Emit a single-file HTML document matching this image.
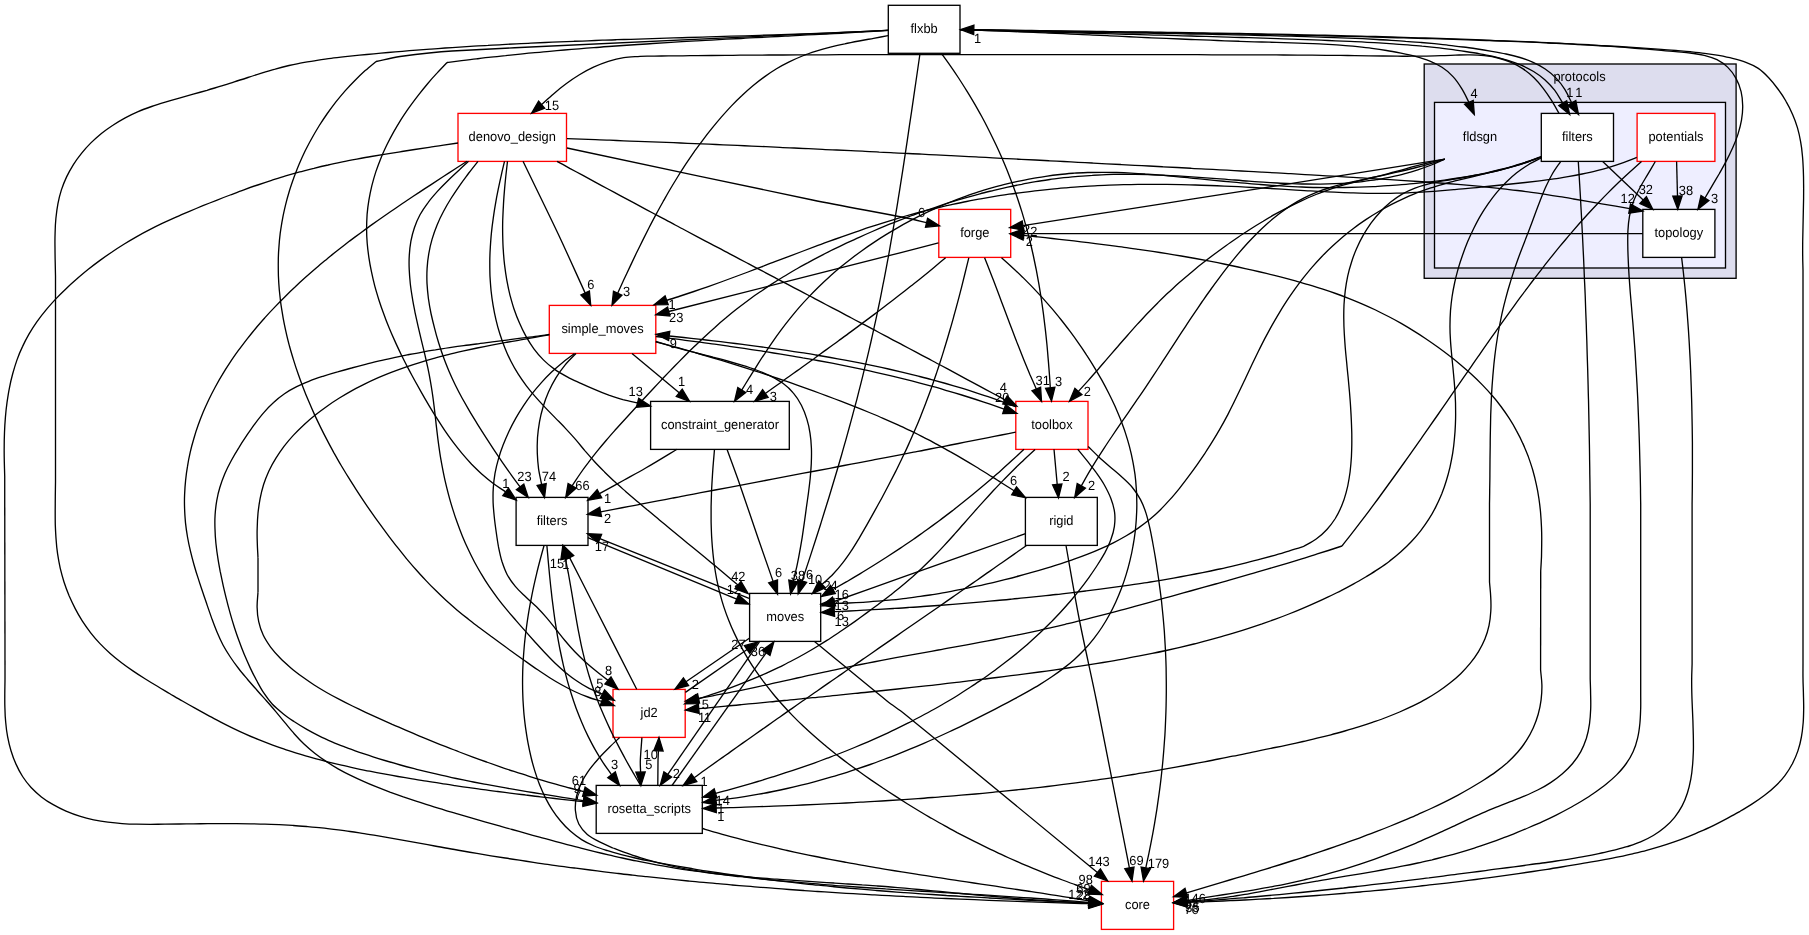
<!DOCTYPE html>
<html><head><meta charset="utf-8"><title>protocols/fldsgn</title>
<style>html,body{margin:0;padding:0;background:#fff}svg{display:block}svg{will-change:transform}text{text-rendering:geometricPrecision;font-family:"Liberation Sans",sans-serif;font-size:13.33px;fill:#000}</style></head><body>
<svg width="1809" height="935" viewBox="0 0 1809 935">
<rect width="1809" height="935" fill="#fff"/>
<rect x="1424.2" y="64" width="311.9" height="214.3" fill="#ddddee" stroke="#000" stroke-width="1.33"/>
<text transform="translate(1579.5,80.5) scale(0.965,1)" text-anchor="middle">protocols</text>
<rect x="1434.5" y="102.4" width="291" height="165.6" fill="#eeeeff" stroke="#000" stroke-width="1.33"/>
<text transform="translate(1480.0,141.0) scale(0.965,1)" text-anchor="middle">fldsgn</text>
<rect x="888.3" y="5.3" width="71.7" height="48.0" fill="#fff" stroke="black" stroke-width="1.33"/>
<text transform="translate(924.1,33.1) scale(0.965,1)" text-anchor="middle">flxbb</text>
<rect x="458.0" y="113.4" width="108.5" height="48.0" fill="#fff" stroke="red" stroke-width="1.33"/>
<text transform="translate(512.2,141.2) scale(0.965,1)" text-anchor="middle">denovo_design</text>
<rect x="938.8" y="209.4" width="71.9" height="48.0" fill="#fff" stroke="red" stroke-width="1.33"/>
<text transform="translate(974.8,237.2) scale(0.965,1)" text-anchor="middle">forge</text>
<rect x="549.3" y="305.4" width="106.5" height="48.0" fill="#fff" stroke="red" stroke-width="1.33"/>
<text transform="translate(602.5,333.2) scale(0.965,1)" text-anchor="middle">simple_moves</text>
<rect x="650.6" y="401.4" width="138.7" height="48.0" fill="#fff" stroke="black" stroke-width="1.33"/>
<text transform="translate(720.0,429.2) scale(0.965,1)" text-anchor="middle">constraint_generator</text>
<rect x="1015.8" y="401.4" width="72.2" height="48.0" fill="#fff" stroke="red" stroke-width="1.33"/>
<text transform="translate(1051.9,429.2) scale(0.965,1)" text-anchor="middle">toolbox</text>
<rect x="516.1" y="497.4" width="71.9" height="48.0" fill="#fff" stroke="black" stroke-width="1.33"/>
<text transform="translate(552.0,525.2) scale(0.965,1)" text-anchor="middle">filters</text>
<rect x="1025.4" y="497.4" width="71.9" height="48.0" fill="#fff" stroke="black" stroke-width="1.33"/>
<text transform="translate(1061.3,525.2) scale(0.965,1)" text-anchor="middle">rigid</text>
<rect x="749.6" y="593.4" width="71.1" height="48.0" fill="#fff" stroke="black" stroke-width="1.33"/>
<text transform="translate(785.2,621.2) scale(0.965,1)" text-anchor="middle">moves</text>
<rect x="613.0" y="689.4" width="72.2" height="48.0" fill="#fff" stroke="red" stroke-width="1.33"/>
<text transform="translate(649.1,717.2) scale(0.965,1)" text-anchor="middle">jd2</text>
<rect x="596.2" y="785.4" width="106.1" height="48.0" fill="#fff" stroke="black" stroke-width="1.33"/>
<text transform="translate(649.2,813.2) scale(0.965,1)" text-anchor="middle">rosetta_scripts</text>
<rect x="1101.4" y="881.4" width="72.2" height="48.0" fill="#fff" stroke="red" stroke-width="1.33"/>
<text transform="translate(1137.5,909.2) scale(0.965,1)" text-anchor="middle">core</text>
<rect x="1541.3" y="113.4" width="72.2" height="48.0" fill="#fff" stroke="black" stroke-width="1.33"/>
<text transform="translate(1577.4,141.2) scale(0.965,1)" text-anchor="middle">filters</text>
<rect x="1637.1" y="113.4" width="77.8" height="48.0" fill="#fff" stroke="red" stroke-width="1.33"/>
<text transform="translate(1676.0,141.2) scale(0.965,1)" text-anchor="middle">potentials</text>
<rect x="1642.8" y="209.4" width="72.1" height="48.0" fill="#fff" stroke="black" stroke-width="1.33"/>
<text transform="translate(1678.8,237.2) scale(0.965,1)" text-anchor="middle">topology</text>
<g fill="none" stroke="#000" stroke-width="1.33">
<path d="M888.3,30.2C883.5,30.4 878.8,30.7 874.0,30.9C869.3,31.1 864.5,31.4 859.7,31.6C855.0,31.8 850.2,32.0 845.4,32.2C840.7,32.4 835.9,32.6 831.1,32.8C826.4,33.0 821.6,33.2 816.8,33.4C812.1,33.5 807.3,33.7 802.5,33.9C797.8,34.1 793.0,34.2 788.2,34.4C783.5,34.6 778.7,34.7 773.9,34.9C769.2,35.0 764.4,35.2 759.6,35.3C754.9,35.5 750.1,35.6 745.3,35.8C740.6,35.9 735.8,36.1 731.0,36.2C726.3,36.4 721.5,36.5 716.7,36.7C712.0,36.8 707.2,36.9 702.4,37.1C697.7,37.2 692.9,37.4 688.1,37.5C683.4,37.7 678.6,37.8 673.8,37.9C669.1,38.1 664.3,38.2 659.5,38.4C654.7,38.5 650.0,38.7 645.2,38.8C640.4,39.0 635.7,39.1 630.9,39.3C626.1,39.4 621.4,39.6 616.6,39.7C611.8,39.9 607.1,40.1 602.3,40.2C597.5,40.4 592.8,40.6 588.0,40.8C583.2,40.9 578.5,41.1 573.7,41.3C568.9,41.5 564.2,41.7 559.4,41.9C554.6,42.1 549.9,42.3 545.1,42.5C540.4,42.7 535.6,42.9 530.8,43.1C526.1,43.4 521.3,43.6 516.5,43.8C511.8,44.1 507.0,44.3 502.2,44.6C497.5,44.8 492.7,45.1 488.0,45.4C483.2,45.6 478.4,45.9 473.7,46.2C468.9,46.5 464.2,46.8 459.4,47.1C454.6,47.4 449.9,47.7 445.1,48.0C440.4,48.4 435.6,48.7 430.9,49.1C426.1,49.4 421.3,49.8 416.6,50.1C411.8,50.5 407.1,50.9 402.3,51.3C397.6,51.7 392.8,52.1 388.1,52.5C383.3,52.9 378.6,53.4 373.8,53.8C369.1,54.3 364.3,54.7 359.6,55.2C354.8,55.7 350.1,56.2 345.3,56.7C340.6,57.2 335.9,57.7 331.1,58.3C326.4,58.9 321.7,59.6 317.0,60.3C312.3,61.0 307.6,61.8 302.9,62.6C298.2,63.5 293.6,64.5 289.0,65.5C284.3,66.6 279.7,67.8 275.2,69.1C270.6,70.3 266.0,71.7 261.5,73.1C257.0,74.6 252.4,76.1 247.9,77.5C243.4,79.0 238.9,80.5 234.3,81.9C229.8,83.4 225.2,84.8 220.7,86.2C216.1,87.6 211.5,88.9 207.0,90.3C202.4,91.6 197.8,92.9 193.2,94.2C188.5,95.5 183.9,96.8 179.3,98.1C174.6,99.4 170.0,100.7 165.3,102.1C160.7,103.5 156.1,104.9 151.6,106.5C147.0,108.1 142.5,109.7 138.1,111.6C133.7,113.5 129.4,115.6 125.2,117.8C121.0,120.1 116.8,122.5 112.9,125.2C108.9,127.8 105.1,130.6 101.4,133.5C97.8,136.5 94.2,139.6 90.9,142.9C87.6,146.2 84.4,149.7 81.5,153.3C78.6,156.9 75.8,160.7 73.4,164.6C70.9,168.6 68.6,172.7 66.6,176.9C64.6,181.1 62.9,185.5 61.4,189.9C60.0,194.4 58.8,199.1 57.9,203.8C57.0,208.5 56.4,213.4 55.9,218.2C55.4,223.1 55.2,228.0 55.1,232.9C54.9,237.9 54.9,242.8 55.0,247.7C55.0,252.5 55.1,257.3 55.2,262.1C55.3,266.8 55.4,271.4 55.5,276.0"/>
<path d="M55.5,276.0L55.5,482.0"/>
<path d="M55.5,482.0C55.4,486.8 55.4,491.5 55.3,496.3C55.3,501.1 55.2,505.9 55.2,510.7C55.2,515.5 55.2,520.3 55.3,525.1C55.5,529.9 55.7,534.7 56.1,539.5C56.4,544.3 56.9,549.1 57.6,553.9C58.3,558.6 59.2,563.4 60.2,568.1C61.3,572.7 62.6,577.4 64.0,582.0C65.5,586.6 67.2,591.1 69.0,595.6C70.9,600.0 73.0,604.4 75.2,608.6C77.4,612.9 79.8,617.0 82.4,621.1C85.0,625.1 87.8,629.0 90.7,632.8C93.6,636.5 96.7,640.1 100.0,643.6C103.2,647.0 106.7,650.3 110.2,653.4C113.8,656.6 117.5,659.6 121.2,662.5C125.0,665.4 128.9,668.2 132.9,670.9C136.8,673.6 140.9,676.2 145.0,678.7C149.1,681.3 153.2,683.8 157.4,686.3C161.5,688.8 165.7,691.2 169.9,693.7C174.0,696.1 178.2,698.6 182.4,701.0C186.6,703.4 190.8,705.8 195.0,708.2C199.2,710.5 203.4,712.9 207.6,715.2C211.8,717.5 216.1,719.7 220.3,721.9C224.6,724.1 228.9,726.2 233.2,728.3C237.5,730.4 241.8,732.4 246.2,734.3C250.5,736.3 254.9,738.1 259.3,739.9C263.8,741.7 268.2,743.4 272.7,745.1C277.2,746.7 281.7,748.3 286.2,749.8C290.7,751.3 295.3,752.7 299.9,754.1C304.4,755.5 309.0,756.8 313.6,758.1C318.3,759.4 322.9,760.6 327.5,761.8C332.2,763.0 336.8,764.1 341.5,765.2C346.2,766.3 350.9,767.3 355.6,768.3C360.3,769.3 365.0,770.3 369.7,771.2C374.4,772.1 379.2,773.0 383.9,773.9C388.6,774.8 393.4,775.6 398.1,776.5C402.8,777.3 407.6,778.1 412.3,778.9C417.1,779.7 421.8,780.5 426.6,781.2C431.3,782.0 436.0,782.7 440.8,783.4C445.5,784.2 450.3,784.9 455.0,785.6C459.7,786.3 464.5,787.0 469.2,787.6C474.0,788.3 478.7,789.0 483.5,789.6C488.2,790.3 493.0,790.9 497.7,791.5C502.5,792.1 507.2,792.7 512.0,793.3C516.7,794.0 521.5,794.5 526.2,795.1C531.0,795.7 535.7,796.3 540.5,796.8C545.3,797.4 550.0,797.9 554.8,798.5C559.6,799.0 564.3,799.6 569.1,800.1C573.9,800.6 578.7,801.1 583.5,801.7"/>
<path d="M888.3,30.3C742.9,37.2 597.4,43.2 452.0,51.0C434.6,51.9 417.2,54.1 400.0,56.5C391.9,57.6 384.0,59.8 376.0,61.5"/>
<path d="M376.0,61.5C372.4,64.5 368.7,67.5 365.2,70.6C361.7,73.8 358.2,77.1 354.9,80.5C351.6,83.8 348.3,87.3 345.1,90.9C342.0,94.5 338.9,98.2 335.9,101.9C333.0,105.7 330.1,109.6 327.3,113.5C324.6,117.4 321.9,121.4 319.3,125.5C316.8,129.6 314.3,133.8 312.0,138.0C309.6,142.2 307.4,146.5 305.2,150.8C303.1,155.2 301.1,159.6 299.2,164.0C297.3,168.5 295.6,173.0 293.9,177.5C292.3,182.0 290.7,186.6 289.3,191.2C287.9,195.8 286.6,200.4 285.5,205.1C284.4,209.7 283.3,214.4 282.5,219.1C281.6,223.8 280.9,228.5 280.2,233.3C279.6,238.0 279.2,242.7 278.9,247.4C278.5,252.2 278.3,256.9 278.3,261.6C278.2,266.4 278.3,271.1 278.4,275.8C278.6,280.6 278.9,285.3 279.3,290.0C279.8,294.7 280.3,299.5 280.9,304.2C281.6,308.9 282.4,313.6 283.2,318.3C284.1,323.0 285.0,327.7 286.1,332.3C287.1,337.0 288.3,341.6 289.5,346.3C290.8,350.9 292.1,355.5 293.6,360.1C295.0,364.7 296.5,369.3 298.1,373.8C299.7,378.4 301.3,382.9 303.1,387.4C304.8,391.9 306.6,396.4 308.5,400.8C310.4,405.3 312.3,409.7 314.3,414.1C316.3,418.4 318.4,422.8 320.5,427.1C322.6,431.4 324.8,435.7 327.0,439.9C329.2,444.2 331.5,448.4 333.8,452.6C336.2,456.7 338.5,460.9 340.9,465.0C343.4,469.1 345.8,473.2 348.3,477.2C350.8,481.3 353.4,485.3 356.0,489.3C358.6,493.3 361.2,497.3 363.9,501.3C366.5,505.2 369.2,509.2 372.0,513.1C374.7,517.0 377.5,520.9 380.3,524.7C383.1,528.6 386.0,532.5 388.9,536.3C391.8,540.1 394.7,543.9 397.7,547.7C400.6,551.4 403.7,555.2 406.7,558.9C409.8,562.5 412.9,566.2 416.1,569.8C419.2,573.4 422.5,576.9 425.8,580.4C429.0,583.9 432.4,587.3 435.8,590.6C439.2,594.0 442.6,597.3 446.2,600.5C449.7,603.7 453.3,606.8 456.9,609.9C460.6,613.0 464.3,616.0 468.1,618.9C471.8,621.9 475.7,624.8 479.5,627.7C483.3,630.5 487.2,633.4 491.0,636.3C494.9,639.1 498.7,642.0 502.6,644.8C506.5,647.6 510.4,650.5 514.2,653.3C518.1,656.1 522.0,658.9 526.0,661.6C529.9,664.4 533.8,667.2 537.7,669.8C541.7,672.5 545.7,675.2 549.7,677.7C553.7,680.2 557.8,682.7 562.0,685.0C566.1,687.3 570.3,689.5 574.6,691.5C579.0,693.6 583.4,695.4 587.9,697.0C592.4,698.7 597.1,699.9 601.7,701.3"/>
<path d="M888.3,30.4C883.4,30.7 878.5,31.0 873.6,31.3C868.7,31.6 863.8,31.9 858.9,32.1C854.0,32.4 849.0,32.7 844.1,33.0C839.2,33.2 834.3,33.5 829.4,33.8C824.5,34.0 819.6,34.3 814.7,34.6C809.8,34.8 804.8,35.1 799.9,35.3C795.0,35.6 790.1,35.9 785.2,36.1C780.3,36.4 775.4,36.6 770.5,36.9C765.5,37.2 760.6,37.4 755.7,37.7C750.8,37.9 745.9,38.2 741.0,38.5C736.1,38.7 731.2,39.0 726.2,39.2C721.3,39.5 716.4,39.8 711.5,40.1C706.6,40.3 701.7,40.6 696.8,40.9C691.9,41.2 687.0,41.4 682.0,41.7C677.1,42.0 672.2,42.3 667.3,42.6C662.4,42.9 657.5,43.2 652.6,43.5C647.7,43.9 642.8,44.2 637.9,44.5C632.9,44.8 628.0,45.2 623.1,45.5C618.2,45.8 613.3,46.2 608.4,46.5C603.5,46.9 598.6,47.3 593.7,47.6C588.8,48.0 583.9,48.4 579.0,48.8C574.1,49.2 569.2,49.6 564.3,50.0C559.4,50.4 554.5,50.9 549.6,51.3C544.7,51.7 539.8,52.2 534.9,52.7C530.0,53.1 525.1,53.6 520.3,54.1C515.4,54.6 510.5,55.1 505.6,55.6C500.7,56.1 495.8,56.6 490.9,57.2C486.0,57.7 481.2,58.3 476.3,58.9C471.4,59.4 466.5,60.0 461.6,60.6C456.8,61.2 451.9,61.9 447.0,62.5"/>
<path d="M447.0,62.5C443.7,66.0 440.4,69.3 437.2,72.9C433.9,76.4 430.7,80.0 427.6,83.7C424.5,87.4 421.4,91.2 418.4,95.1C415.4,99.0 412.4,102.9 409.6,106.9C406.7,110.9 404.0,115.0 401.3,119.1C398.7,123.3 396.2,127.5 393.7,131.8C391.3,136.1 389.0,140.4 386.9,144.8C384.8,149.2 382.7,153.7 380.9,158.2C379.1,162.7 377.4,167.3 375.8,171.9C374.3,176.5 373.0,181.2 371.8,185.9C370.7,190.6 369.7,195.3 368.9,200.1C368.1,204.8 367.5,209.6 367.1,214.4C366.8,219.2 366.6,224.0 366.6,228.8C366.6,233.6 366.8,238.4 367.2,243.2C367.6,248.0 368.2,252.8 368.9,257.6C369.6,262.4 370.5,267.2 371.5,271.9C372.5,276.7 373.6,281.4 374.8,286.1C376.1,290.8 377.5,295.4 378.9,300.0C380.4,304.7 382.0,309.3 383.7,313.8C385.3,318.4 387.1,323.0 389.0,327.5C390.8,332.0 392.8,336.5 394.8,340.9C396.8,345.4 398.9,349.8 401.0,354.2C403.2,358.6 405.4,363.0 407.7,367.4C409.9,371.7 412.3,376.0 414.6,380.3C417.0,384.6 419.4,388.9 421.8,393.1C424.2,397.4 426.7,401.6 429.2,405.8C431.7,410.0 434.2,414.1 436.8,418.2C439.4,422.3 442.0,426.4 444.7,430.4C447.4,434.4 450.2,438.3 453.1,442.2C456.0,446.0 458.9,449.8 462.0,453.4C465.1,457.1 468.3,460.7 471.6,464.2C475.0,467.6 478.4,471.0 482.0,474.2C485.7,477.4 489.4,480.5 493.3,483.5C497.3,486.4 501.5,489.1 505.6,491.9"/>
<path d="M888.0,35.7C883.2,36.6 878.4,37.4 873.6,38.3C868.8,39.2 864.0,40.0 859.1,41.0C854.3,41.9 849.5,42.8 844.7,43.9C839.8,44.9 835.0,46.0 830.3,47.2C825.5,48.4 820.8,49.7 816.2,51.2C811.5,52.7 806.9,54.2 802.4,56.0C797.9,57.8 793.5,59.7 789.2,61.9C784.9,64.0 780.6,66.3 776.5,68.8C772.4,71.3 768.4,74.0 764.4,76.9C760.5,79.7 756.7,82.7 752.9,85.8C749.2,88.9 745.5,92.2 742.0,95.6C738.4,98.9 734.9,102.4 731.5,105.9C728.1,109.5 724.8,113.2 721.5,116.9C718.3,120.6 715.2,124.3 712.1,128.2C709.0,132.0 706.0,135.8 703.0,139.8C700.0,143.7 697.2,147.6 694.3,151.6C691.5,155.6 688.8,159.6 686.1,163.7C683.4,167.8 680.8,171.9 678.2,176.0C675.6,180.2 673.1,184.3 670.6,188.5C668.1,192.7 665.7,197.0 663.3,201.2C660.9,205.5 658.5,209.8 656.2,214.1C653.9,218.4 651.6,222.7 649.4,227.0C647.2,231.4 645.0,235.8 642.8,240.1C640.6,244.5 638.5,248.9 636.3,253.3C634.2,257.7 632.1,262.1 630.0,266.6C627.9,271.0 625.9,275.4 623.8,279.8C621.8,284.3 619.7,288.7 617.7,293.2"/>
<path d="M920.0,53.5C919.3,58.3 918.6,63.1 917.9,68.0C917.2,72.8 916.5,77.6 915.8,82.5C915.1,87.3 914.4,92.1 913.7,96.9C913.0,101.8 912.3,106.6 911.6,111.4C910.9,116.2 910.1,121.1 909.4,125.9C908.7,130.7 908.0,135.6 907.3,140.4C906.6,145.2 905.8,150.0 905.1,154.9C904.4,159.7 903.6,164.5 902.9,169.3C902.1,174.2 901.4,179.0 900.6,183.8C899.9,188.6 899.1,193.5 898.3,198.3C897.6,203.1 896.8,207.9 896.0,212.7C895.2,217.5 894.4,222.4 893.5,227.2C892.7,232.0 891.9,236.8 891.0,241.6C890.2,246.4 889.3,251.2 888.5,256.0C887.6,260.8 886.7,265.6 885.8,270.4C884.9,275.2 884.0,280.0 883.0,284.7C882.1,289.5 881.1,294.3 880.2,299.1C879.2,303.9 878.2,308.6 877.2,313.4C876.2,318.2 875.1,322.9 874.1,327.7C873.0,332.5 872.0,337.2 870.9,342.0C869.8,346.7 868.7,351.5 867.6,356.2C866.4,360.9 865.3,365.7 864.1,370.4C863.0,375.2 861.8,379.9 860.6,384.6C859.4,389.3 858.2,394.1 857.0,398.8C855.7,403.5 854.5,408.2 853.2,412.9C852.0,417.6 850.7,422.3 849.4,427.0C848.1,431.7 846.8,436.4 845.5,441.1C844.1,445.8 842.8,450.5 841.5,455.2C840.1,459.9 838.7,464.6 837.4,469.3C836.0,473.9 834.6,478.6 833.2,483.3C831.8,488.0 830.4,492.6 829.0,497.3C827.5,502.0 826.1,506.6 824.6,511.3C823.2,515.9 821.7,520.6 820.3,525.3C818.8,529.9 817.3,534.6 815.8,539.2C814.3,543.9 812.8,548.5 811.3,553.1C809.8,557.8 808.3,562.4 806.7,567.1C805.2,571.7 803.7,576.3 802.1,581.0"/>
<path d="M941.5,53.5C944.4,57.5 947.4,61.6 950.2,65.6C953.1,69.7 955.9,73.9 958.6,78.0C961.3,82.2 964.0,86.4 966.6,90.6C969.3,94.8 971.8,99.1 974.3,103.4C976.8,107.7 979.2,112.0 981.6,116.3C984.0,120.7 986.3,125.1 988.5,129.5C990.7,133.9 992.9,138.3 995.0,142.8C997.2,147.3 999.2,151.8 1001.2,156.3C1003.2,160.9 1005.1,165.4 1007.0,170.0C1008.8,174.6 1010.6,179.2 1012.3,183.8C1014.1,188.4 1015.7,193.1 1017.3,197.8C1018.9,202.5 1020.4,207.2 1021.9,211.9C1023.3,216.6 1024.7,221.4 1026.0,226.1C1027.3,230.9 1028.6,235.7 1029.8,240.5C1031.0,245.3 1032.1,250.1 1033.2,255.0C1034.2,259.8 1035.2,264.7 1036.2,269.5C1037.1,274.4 1038.0,279.3 1038.9,284.2C1039.7,289.1 1040.5,294.0 1041.3,298.9C1042.0,303.8 1042.7,308.7 1043.4,313.6C1044.0,318.6 1044.6,323.5 1045.2,328.4C1045.8,333.4 1046.3,338.3 1046.8,343.3C1047.3,348.2 1047.7,353.1 1048.1,358.1C1048.6,363.0 1048.9,368.0 1049.3,372.9C1049.7,377.9 1050.0,382.8 1050.3,387.7"/>
<path d="M1558.9,113.2C1556.5,109.0 1554.2,104.8 1551.7,100.7C1549.1,96.6 1546.4,92.5 1543.4,88.6C1540.5,84.8 1537.4,81.1 1534.0,77.8C1530.6,74.5 1527.0,71.5 1523.1,68.9C1519.4,66.4 1515.3,64.1 1511.1,62.3C1506.9,60.5 1502.5,59.1 1498.0,58.0C1493.5,56.8 1488.9,56.2 1484.3,55.7C1479.5,55.2 1474.7,55.0 1470.0,54.9C1465.1,54.8 1460.3,55.0 1455.4,55.1C1450.5,55.3 1445.6,55.6 1440.7,55.7C1435.9,55.9 1431.0,56.0 1426.2,56.1C1421.4,56.2 1416.6,56.2 1411.8,56.2C1407.0,56.3 1402.3,56.2 1397.5,56.2C1392.8,56.1 1388.0,56.0 1383.3,56.0C1378.5,55.9 1373.8,55.8 1369.0,55.8C1364.3,55.7 1359.6,55.6 1354.8,55.6C1350.1,55.5 1345.3,55.5 1340.6,55.4C1335.8,55.4 1331.1,55.3 1326.3,55.3C1321.6,55.2 1316.8,55.2 1312.0,55.2C1307.3,55.1 1302.5,55.1 1297.8,55.1C1293.0,55.0 1288.2,55.0 1283.5,55.0C1278.7,55.0 1274.0,54.9 1269.2,54.9C1264.4,54.9 1259.7,54.9 1254.9,54.9C1250.1,54.8 1245.4,54.8 1240.6,54.8C1235.8,54.8 1231.1,54.8 1226.3,54.8C1221.5,54.8 1216.8,54.8 1212.0,54.8C1207.2,54.7 1202.5,54.7 1197.7,54.7C1192.9,54.7 1188.1,54.7 1183.4,54.7C1178.6,54.7 1173.8,54.7 1169.1,54.7C1164.3,54.7 1159.5,54.7 1154.8,54.7C1150.0,54.7 1145.2,54.7 1140.4,54.7C1135.7,54.7 1130.9,54.7 1126.1,54.7C1121.4,54.7 1116.6,54.7 1111.8,54.7C1107.1,54.7 1102.3,54.7 1097.5,54.7C1092.7,54.7 1088.0,54.7 1083.2,54.6C1078.4,54.6 1073.7,54.6 1068.9,54.6C1064.1,54.6 1059.4,54.6 1054.6,54.6C1049.8,54.6 1045.1,54.6 1040.3,54.6C1035.5,54.6 1030.8,54.6 1026.0,54.6C1021.2,54.6 1016.5,54.6 1011.7,54.6C1006.9,54.6 1002.2,54.6 997.4,54.6C992.6,54.6 987.9,54.6 983.1,54.6C978.3,54.6 973.6,54.6 968.8,54.6C964.1,54.6 959.3,54.6 954.5,54.6C949.8,54.6 945.0,54.6 940.2,54.6C935.5,54.6 930.7,54.6 925.9,54.6C921.2,54.6 916.4,54.6 911.6,54.6C906.9,54.6 902.1,54.6 897.3,54.6C892.6,54.6 887.8,54.6 883.1,54.6C878.3,54.6 873.5,54.6 868.8,54.6C864.0,54.7 859.2,54.7 854.5,54.7C849.7,54.7 844.9,54.7 840.2,54.7C835.4,54.7 830.6,54.8 825.9,54.8C821.1,54.8 816.4,54.8 811.6,54.8C806.8,54.8 802.1,54.9 797.3,54.9C792.5,54.9 787.8,54.9 783.0,55.0C778.2,55.0 773.5,55.0 768.7,55.0C763.9,55.1 759.2,55.1 754.4,55.1C749.6,55.2 744.9,55.2 740.1,55.2C735.3,55.3 730.6,55.3 725.8,55.4C721.0,55.4 716.3,55.4 711.5,55.5C706.8,55.5 702.0,55.6 697.2,55.6C692.4,55.7 687.7,55.7 682.9,55.8C678.1,55.8 673.4,55.9 668.6,55.9C663.8,56.0 659.1,56.0 654.3,56.1C649.5,56.2 644.8,56.2 640.0,56.3"/>
<path d="M640.0,56.3C634.6,56.7 629.1,56.7 623.8,57.6C618.6,58.4 613.4,59.7 608.3,61.3C603.3,62.9 598.3,64.9 593.5,67.2C588.7,69.4 584.0,72.0 579.4,74.8C574.8,77.6 570.4,80.6 566.1,83.8C561.7,87.0 557.6,90.4 553.5,93.9C549.4,97.3 545.6,101.0 541.6,104.6"/>
<path d="M458.0,143.0C453.2,143.7 448.4,144.5 443.5,145.2C438.7,145.9 433.9,146.6 429.1,147.4C424.2,148.1 419.4,148.8 414.6,149.5C409.7,150.3 404.9,151.0 400.1,151.8C395.3,152.5 390.4,153.3 385.6,154.1C380.8,154.9 376.0,155.7 371.2,156.5C366.4,157.3 361.6,158.2 356.8,159.1C352.0,160.0 347.2,160.9 342.4,161.9C337.6,162.9 332.8,163.9 328.1,165.0C323.3,166.0 318.6,167.1 313.9,168.3C309.1,169.4 304.4,170.7 299.7,171.9C295.0,173.2 290.3,174.6 285.6,175.9C280.9,177.3 276.3,178.8 271.6,180.3C267.0,181.8 262.3,183.4 257.7,185.0C253.1,186.5 248.5,188.2 243.9,189.9C239.3,191.5 234.7,193.3 230.2,195.0C225.6,196.7 221.0,198.5 216.5,200.3C212.0,202.1 207.4,203.9 202.9,205.7C198.4,207.6 193.9,209.4 189.4,211.3C184.9,213.2 180.4,215.1 176.0,217.1C171.5,219.1 167.1,221.1 162.7,223.2C158.3,225.3 154.0,227.4 149.7,229.7C145.4,231.9 141.1,234.2 136.8,236.6C132.6,239.0 128.4,241.5 124.3,244.0C120.1,246.6 116.0,249.2 112.0,252.0C107.9,254.7 103.9,257.5 100.0,260.4C96.0,263.3 92.1,266.3 88.3,269.3C84.5,272.4 80.7,275.5 77.0,278.8C73.3,282.0 69.6,285.3 66.1,288.7C62.5,292.1 59.0,295.5 55.6,299.1C52.3,302.7 49.0,306.3 45.9,310.1C42.8,313.8 39.8,317.7 37.0,321.6C34.2,325.6 31.6,329.6 29.1,333.8C26.7,337.9 24.5,342.2 22.5,346.6C20.4,350.9 18.6,355.4 17.0,359.9C15.4,364.5 14.0,369.1 12.7,373.8C11.4,378.5 10.3,383.3 9.4,388.1C8.4,392.9 7.7,397.8 7.0,402.7C6.3,407.6 5.8,412.5 5.4,417.4C5.0,422.3 4.7,427.3 4.5,432.2C4.3,437.1 4.2,442.1 4.2,447.0C4.1,451.9 4.2,456.7 4.3,461.6C4.4,466.4 4.6,471.2 4.7,476.0"/>
<path d="M4.7,476.0L5.0,665.0"/>
<path d="M5.0,665.0C5.0,669.7 5.0,674.4 5.0,679.0C5.0,683.8 4.8,688.5 4.8,693.3C4.8,698.1 4.7,702.9 4.9,707.7C5.0,712.5 5.2,717.4 5.7,722.2C6.1,727.0 6.7,731.8 7.6,736.6C8.5,741.4 9.6,746.1 11.0,750.7C12.4,755.3 14.0,759.8 16.0,764.1C17.9,768.4 20.1,772.6 22.6,776.5C25.1,780.4 28.0,784.1 31.1,787.5C34.3,790.9 37.8,794.0 41.4,796.9C45.1,799.8 49.1,802.4 53.2,804.7C57.3,807.1 61.6,809.2 66.0,811.1C70.5,813.0 75.0,814.7 79.6,816.1C84.3,817.6 89.0,818.8 93.7,819.8C98.4,820.8 103.1,821.6 107.9,822.2C112.6,822.8 117.4,823.3 122.1,823.6C126.9,823.9 131.6,824.1 136.4,824.2C141.1,824.3 145.9,824.3 150.6,824.3C155.4,824.3 160.1,824.2 164.9,824.2C169.7,824.1 174.4,824.0 179.2,824.0C184.0,823.9 188.7,823.9 193.5,823.8C198.3,823.8 203.0,823.7 207.8,823.7C212.6,823.6 217.3,823.6 222.1,823.6C226.9,823.6 231.6,823.6 236.4,823.7C241.1,823.7 245.9,823.8 250.7,823.8C255.4,823.9 260.2,824.0 264.9,824.2C269.7,824.3 274.5,824.5 279.2,824.7C284.0,825.0 288.7,825.2 293.4,825.5C298.2,825.8 302.9,826.2 307.7,826.6C312.4,827.0 317.1,827.4 321.8,827.9C326.6,828.4 331.3,829.0 336.0,829.6C340.7,830.2 345.4,830.8 350.1,831.5C354.8,832.1 359.5,832.9 364.2,833.6C368.9,834.3 373.6,835.1 378.3,835.9C383.0,836.7 387.7,837.5 392.4,838.3C397.1,839.1 401.8,840.0 406.5,840.8C411.2,841.7 415.9,842.5 420.6,843.4C425.3,844.3 430.0,845.1 434.7,846.0C439.3,846.9 444.0,847.7 448.7,848.5C453.4,849.4 458.1,850.2 462.8,851.0C467.5,851.9 472.2,852.7 476.9,853.4C481.6,854.2 486.3,855.0 491.0,855.8C495.7,856.5 500.4,857.3 505.2,858.0C509.9,858.8 514.6,859.5 519.3,860.2C524.0,860.9 528.7,861.6 533.4,862.3C538.1,863.0 542.8,863.7 547.6,864.3C552.3,865.0 557.0,865.7 561.7,866.3C566.4,867.0 571.2,867.6 575.9,868.2C580.6,868.8 585.3,869.4 590.1,870.0C594.8,870.6 599.5,871.2 604.2,871.8C609.0,872.4 613.7,872.9 618.4,873.5C623.1,874.1 627.9,874.6 632.6,875.1C637.3,875.7 642.1,876.2 646.8,876.7C651.5,877.2 656.3,877.7 661.0,878.2C665.7,878.7 670.5,879.2 675.2,879.7C680.0,880.2 684.7,880.6 689.4,881.1C694.2,881.6 698.9,882.0 703.7,882.4C708.4,882.9 713.2,883.3 717.9,883.7C722.6,884.2 727.4,884.6 732.1,885.0C736.9,885.4 741.6,885.8 746.4,886.2C751.1,886.6 755.9,887.0 760.6,887.3C765.4,887.7 770.1,888.1 774.9,888.4C779.6,888.8 784.4,889.1 789.1,889.5C793.9,889.8 798.6,890.2 803.4,890.5C808.1,890.8 812.9,891.1 817.6,891.5C822.4,891.8 827.1,892.1 831.9,892.4C836.6,892.7 841.4,893.0 846.2,893.3C850.9,893.6 855.7,893.8 860.4,894.1C865.2,894.4 869.9,894.7 874.7,894.9C879.5,895.2 884.2,895.4 889.0,895.7C893.7,895.9 898.5,896.2 903.2,896.4C908.0,896.7 912.8,896.9 917.5,897.1C922.3,897.4 927.0,897.6 931.8,897.8C936.6,898.1 941.3,898.3 946.1,898.5C950.8,898.7 955.6,898.9 960.4,899.1C965.1,899.3 969.9,899.5 974.6,899.7C979.4,899.9 984.2,900.1 988.9,900.3C993.7,900.5 998.4,900.6 1003.2,900.8C1008.0,901.0 1012.7,901.2 1017.5,901.4C1022.2,901.5 1027.0,901.7 1031.8,901.9C1036.5,902.0 1041.3,902.2 1046.0,902.4C1050.8,902.5 1055.6,902.7 1060.3,902.8C1065.1,903.0 1069.8,903.1 1074.6,903.3C1079.4,903.4 1084.1,903.6 1088.9,903.7"/>
<path d="M467.0,161.3C463.0,163.9 459.0,166.5 455.0,169.0C451.0,171.6 447.0,174.2 443.0,176.8C439.0,179.4 435.0,182.0 431.1,184.6C427.1,187.1 423.1,189.7 419.2,192.4C415.2,195.0 411.3,197.6 407.3,200.2C403.4,202.8 399.5,205.5 395.6,208.2C391.7,210.8 387.8,213.5 383.9,216.2C380.0,218.9 376.2,221.6 372.3,224.4C368.5,227.1 364.7,229.9 360.9,232.7C357.1,235.5 353.3,238.3 349.5,241.1C345.8,244.0 342.1,246.9 338.4,249.8C334.6,252.7 331.0,255.7 327.3,258.7C323.7,261.7 320.0,264.7 316.5,267.8C312.9,270.9 309.3,274.0 305.8,277.1C302.2,280.3 298.7,283.5 295.3,286.8C291.8,290.0 288.4,293.3 285.0,296.7C281.6,300.0 278.3,303.4 275.0,306.9C271.7,310.3 268.4,313.8 265.2,317.4C262.1,320.9 258.9,324.5 255.8,328.2C252.8,331.9 249.8,335.6 246.8,339.3C243.9,343.1 241.0,346.9 238.2,350.7C235.4,354.6 232.7,358.4 230.1,362.4C227.5,366.3 224.9,370.3 222.5,374.4C220.0,378.4 217.7,382.5 215.4,386.7C213.2,390.8 211.0,395.0 209.0,399.3C207.0,403.5 205.0,407.8 203.2,412.1C201.4,416.5 199.7,420.8 198.1,425.3C196.5,429.7 195.1,434.2 193.8,438.7C192.4,443.3 191.2,447.8 190.2,452.4C189.1,457.1 188.2,461.7 187.5,466.4C186.7,471.0 186.1,475.7 185.6,480.4C185.1,485.1 184.8,489.9 184.6,494.6C184.4,499.3 184.4,504.1 184.6,508.8C184.7,513.5 185.1,518.2 185.5,522.9C186.0,527.6 186.7,532.3 187.5,537.0C188.3,541.6 189.3,546.3 190.4,550.9C191.5,555.5 192.7,560.1 194.0,564.7C195.3,569.3 196.7,573.9 198.2,578.4C199.6,583.0 201.2,587.5 202.7,592.0C204.2,596.6 205.8,601.1 207.3,605.6C208.9,610.1 210.4,614.6 212.0,619.1C213.6,623.5 215.2,627.9 217.1,632.3C218.9,636.6 220.8,640.8 223.0,645.0C225.2,649.1 227.7,653.1 230.3,657.0C232.9,661.0 235.7,664.8 238.6,668.5C241.5,672.3 244.6,675.9 247.6,679.5C250.7,683.1 253.8,686.7 257.0,690.2C260.1,693.8 263.3,697.3 266.4,700.8C269.6,704.4 272.7,708.0 275.8,711.6C278.9,715.3 281.9,719.0 284.9,722.7C288.0,726.4 291.0,730.2 294.2,733.7C297.4,737.3 300.6,740.7 304.0,744.0C307.4,747.2 311.0,750.3 314.7,753.2C318.4,756.1 322.2,758.8 326.1,761.4C330.0,764.0 334.0,766.5 338.1,768.8C342.2,771.1 346.4,773.3 350.6,775.4C354.9,777.5 359.2,779.5 363.5,781.4C367.8,783.4 372.2,785.2 376.6,786.9C381.1,788.7 385.5,790.4 389.9,792.1C394.4,793.7 398.9,795.3 403.3,796.9C407.8,798.4 412.3,799.9 416.8,801.4C421.3,802.9 425.8,804.3 430.3,805.7C434.8,807.2 439.4,808.5 443.9,809.9C448.4,811.3 453.0,812.6 457.5,813.9C462.1,815.2 466.6,816.6 471.2,817.9C475.7,819.2 480.3,820.5 484.8,821.8C489.4,823.1 494.0,824.4 498.5,825.7C503.1,827.0 507.6,828.3 512.2,829.5C516.8,830.8 521.3,832.1 525.9,833.4C530.5,834.7 535.0,835.9 539.6,837.2C544.2,838.5 548.8,839.7 553.4,840.9C557.9,842.2 562.5,843.4 567.1,844.6C571.7,845.8 576.3,847.0 580.9,848.1C585.5,849.3 590.1,850.4 594.7,851.6C599.3,852.7 603.9,853.8 608.5,854.9C613.1,855.9 617.7,857.0 622.4,858.0C627.0,859.0 631.6,860.0 636.2,860.9C640.9,861.9 645.5,862.8 650.2,863.7C654.8,864.6 659.4,865.4 664.1,866.2C668.8,867.1 673.4,867.8 678.1,868.6C682.8,869.3 687.5,870.0 692.1,870.6C696.8,871.3 701.5,871.9 706.2,872.5C710.9,873.1 715.6,873.6 720.3,874.1C725.0,874.7 729.7,875.1 734.4,875.6C739.2,876.1 743.9,876.5 748.6,876.9C753.3,877.4 758.0,877.8 762.8,878.1C767.5,878.5 772.2,878.9 777.0,879.2C781.7,879.6 786.4,879.9 791.2,880.2C795.9,880.6 800.6,880.9 805.4,881.2C810.1,881.5 814.9,881.8 819.6,882.1C824.3,882.4 829.1,882.7 833.8,883.0C838.5,883.3 843.3,883.6 848.0,884.0C852.8,884.3 857.5,884.6 862.2,884.9C867.0,885.2 871.7,885.6 876.4,885.9C881.2,886.3 885.9,886.7 890.6,887.0C895.3,887.4 900.1,887.8 904.8,888.2C909.5,888.6 914.2,889.1 918.9,889.5C923.6,889.9 928.3,890.4 933.1,890.8C937.8,891.2 942.5,891.7 947.2,892.1C951.9,892.6 956.6,893.0 961.3,893.5C966.0,893.9 970.7,894.4 975.5,894.8C980.2,895.3 984.9,895.7 989.6,896.1C994.3,896.5 999.0,897.0 1003.7,897.4C1008.4,897.8 1013.2,898.2 1017.9,898.6C1022.6,899.0 1027.3,899.3 1032.0,899.7C1036.8,900.0 1041.5,900.4 1046.2,900.7C1051.0,901.0 1055.7,901.3 1060.4,901.5C1065.2,901.8 1069.9,902.0 1074.6,902.2C1079.4,902.4 1084.1,902.6 1088.9,902.8"/>
<path d="M468.5,161.3C465.1,164.4 461.7,167.6 458.4,170.7C454.8,174.0 451.2,177.3 447.8,180.7C444.2,184.2 440.7,187.7 437.4,191.4C434.1,195.1 430.8,198.8 427.9,202.8C425.0,206.6 422.3,210.6 420.0,214.8C417.8,218.9 415.9,223.3 414.4,227.7C412.9,232.0 411.8,236.6 410.9,241.2C410.1,245.7 409.6,250.4 409.3,255.1C409.0,259.8 409.0,264.6 409.2,269.3C409.4,274.1 409.8,278.9 410.3,283.7C410.8,288.5 411.6,293.3 412.4,298.1C413.1,302.8 414.1,307.5 415.0,312.3C416.0,317.0 417.1,321.6 418.1,326.3C419.2,331.0 420.3,335.7 421.4,340.3C422.5,345.0 423.7,349.6 424.8,354.3C425.8,358.9 426.9,363.6 427.9,368.2C428.9,372.9 429.8,377.6 430.6,382.3C431.4,387.0 432.2,391.7 432.8,396.4C433.5,401.1 434.0,405.9 434.6,410.6C435.2,415.4 435.7,420.1 436.2,424.9C436.8,429.6 437.3,434.4 437.9,439.2C438.5,443.9 439.2,448.7 439.9,453.4C440.6,458.2 441.5,462.9 442.4,467.6C443.3,472.3 444.2,477.0 445.3,481.7C446.4,486.4 447.5,491.0 448.8,495.6C450.0,500.3 451.4,504.9 452.8,509.4C454.2,514.0 455.7,518.5 457.4,523.0C459.0,527.5 460.7,532.0 462.5,536.4C464.3,540.8 466.2,545.1 468.3,549.5C470.3,553.8 472.4,558.0 474.6,562.2C476.9,566.4 479.2,570.6 481.7,574.6C484.1,578.7 486.7,582.8 489.3,586.7C492.0,590.6 494.8,594.5 497.7,598.3C500.6,602.2 503.6,605.9 506.7,609.6C509.7,613.3 512.9,616.9 516.1,620.6C519.2,624.2 522.4,627.8 525.6,631.4C528.8,635.0 532.0,638.6 535.2,642.2C538.4,645.7 541.6,649.3 544.9,652.7C548.2,656.2 551.5,659.6 554.9,662.9C558.4,666.2 561.9,669.4 565.5,672.4C569.2,675.4 572.9,678.4 576.9,681.0C580.8,683.7 584.9,686.2 589.1,688.4C593.4,690.6 598.0,692.2 602.5,694.2"/>
<path d="M478.0,161.3C474.9,165.2 471.8,169.1 468.8,173.0C465.8,177.1 462.7,181.1 459.8,185.3C456.9,189.5 454.0,193.7 451.3,198.0C448.6,202.3 446.0,206.7 443.6,211.2C441.2,215.7 439.0,220.2 437.1,224.9C435.2,229.5 433.5,234.3 432.1,239.1C430.7,243.8 429.6,248.7 428.8,253.6C427.9,258.5 427.4,263.5 427.1,268.4C426.8,273.4 426.8,278.4 427.0,283.4C427.3,288.5 427.8,293.5 428.4,298.5C429.1,303.5 430.0,308.5 431.0,313.5C432.1,318.5 433.3,323.4 434.6,328.3C435.8,333.3 437.2,338.1 438.7,343.0C440.2,347.8 441.8,352.6 443.5,357.3C445.2,362.0 447.1,366.7 449.0,371.3C451.0,376.0 453.1,380.5 455.3,385.0C457.5,389.5 459.8,393.9 462.2,398.3C464.7,402.7 467.2,407.1 469.7,411.4C472.3,415.8 475.0,420.1 477.6,424.3C480.3,428.6 483.0,432.9 485.7,437.2C488.4,441.4 491.2,445.7 494.0,449.9C496.8,454.1 499.6,458.3 502.4,462.4C505.3,466.6 508.2,470.7 511.2,474.8C514.1,478.9 517.1,482.9 520.1,486.9"/>
<path d="M504.5,161.3C503.4,166.1 502.2,170.8 501.2,175.6C500.1,180.3 499.1,185.1 498.1,189.9C497.1,194.7 496.2,199.5 495.4,204.3C494.6,209.0 493.8,213.8 493.2,218.7C492.5,223.5 491.9,228.3 491.4,233.1C490.9,237.9 490.6,242.7 490.3,247.6C490.0,252.4 489.8,257.2 489.8,262.0C489.8,266.8 489.8,271.7 490.0,276.5C490.3,281.3 490.6,286.1 491.1,291.0C491.6,295.8 492.3,300.6 493.1,305.4C493.9,310.2 494.8,315.0 496.0,319.8C497.1,324.6 498.4,329.4 499.9,334.0C501.4,338.7 503.0,343.4 504.9,347.9C506.7,352.5 508.7,356.9 510.9,361.3C513.1,365.6 515.5,369.8 518.1,373.9C520.7,378.0 523.5,381.9 526.4,385.8C529.3,389.6 532.4,393.3 535.5,396.9C538.7,400.6 542.0,404.1 545.3,407.6C548.7,411.2 552.1,414.6 555.5,418.1C558.9,421.6 562.4,425.0 565.7,428.6C569.0,432.1 572.3,435.7 575.5,439.4C578.7,443.1 581.7,446.9 584.8,450.6C588.0,454.2 591.1,457.9 594.4,461.5C597.7,465.1 601.1,468.5 604.5,471.9C608.0,475.3 611.5,478.7 615.1,482.0C618.6,485.3 622.3,488.5 625.9,491.7C629.6,494.9 633.3,498.0 637.0,501.2C640.7,504.3 644.4,507.5 648.2,510.6C651.9,513.7 655.6,516.8 659.4,519.9C663.1,523.0 666.9,526.1 670.6,529.2C674.4,532.3 678.2,535.4 681.9,538.5C685.7,541.6 689.4,544.7 693.2,547.8C696.9,550.8 700.7,553.9 704.5,557.0C708.2,560.1 712.0,563.2 715.7,566.3C719.4,569.4 723.2,572.5 726.9,575.7C730.6,578.8 734.3,582.0 738.0,585.1"/>
<path d="M507.5,161.3C506.9,166.3 506.4,171.3 505.8,176.3C505.3,181.2 504.8,186.2 504.4,191.1C504.0,196.1 503.6,201.0 503.4,205.9C503.1,210.8 502.9,215.7 502.7,220.7C502.6,225.6 502.6,230.5 502.7,235.4C502.8,240.4 502.9,245.3 503.3,250.2C503.6,255.2 504.0,260.2 504.6,265.2C505.2,270.1 505.9,275.1 506.8,280.1C507.7,285.0 508.7,289.9 509.9,294.8C511.2,299.6 512.5,304.5 514.1,309.2C515.7,313.9 517.5,318.6 519.5,323.1C521.4,327.6 523.6,332.1 526.0,336.4C528.4,340.7 531.0,344.9 533.9,348.8C536.8,352.7 540.0,356.5 543.4,359.9C546.9,363.4 550.7,366.6 554.7,369.4C558.8,372.3 563.2,374.7 567.7,377.1C572.1,379.5 576.8,381.5 581.4,383.7C585.9,385.8 590.5,387.8 595.1,389.7C599.6,391.7 604.2,393.5 608.8,395.2C613.5,396.8 618.2,398.4 622.9,399.7C627.7,400.9 632.7,401.8 637.6,402.8"/>
<path d="M523.0,161.3C534.7,185.5 546.7,209.7 558.2,234.0C567.4,253.6 576.2,273.4 585.2,293.1"/>
<path d="M557.0,161.3C561.2,163.6 565.5,165.9 569.7,168.3C574.0,170.6 578.2,172.9 582.5,175.2C586.7,177.5 591.0,179.8 595.2,182.1C599.5,184.4 603.7,186.7 608.0,189.0C612.2,191.3 616.5,193.6 620.7,195.9C625.0,198.2 629.3,200.5 633.5,202.7C637.8,205.0 642.0,207.3 646.3,209.6C650.6,211.9 654.8,214.1 659.1,216.4C663.4,218.7 667.6,221.0 671.9,223.2C676.2,225.5 680.4,227.8 684.7,230.0C689.0,232.3 693.3,234.6 697.5,236.8C701.8,239.1 706.1,241.4 710.4,243.6C714.6,245.9 718.9,248.1 723.2,250.4C727.5,252.6 731.7,254.9 736.0,257.2C740.3,259.4 744.6,261.7 748.8,263.9C753.1,266.2 757.4,268.4 761.7,270.7C765.9,272.9 770.2,275.2 774.5,277.4C778.8,279.7 783.1,281.9 787.3,284.2C791.6,286.4 795.9,288.7 800.2,290.9C804.4,293.2 808.7,295.4 813.0,297.7C817.3,300.0 821.6,302.2 825.8,304.5C830.1,306.7 834.4,309.0 838.7,311.2C842.9,313.5 847.2,315.7 851.5,318.0C855.8,320.2 860.1,322.5 864.3,324.7C868.6,327.0 872.9,329.3 877.2,331.5C881.4,333.8 885.7,336.0 890.0,338.3C894.2,340.6 898.5,342.8 902.8,345.1C907.1,347.4 911.3,349.6 915.6,351.9C919.9,354.2 924.1,356.4 928.4,358.7C932.7,361.0 936.9,363.3 941.2,365.5C945.5,367.8 949.7,370.1 954.0,372.4C958.2,374.7 962.5,377.0 966.8,379.3C971.0,381.5 975.3,383.8 979.5,386.1C983.8,388.4 988.0,390.7 992.3,393.0C996.5,395.3 1000.8,397.6 1005.0,399.9"/>
<path d="M567.0,148.0C648.8,165.3 730.6,183.1 812.5,200.0C843.8,206.4 875.3,211.8 906.6,218.0C913.3,219.3 919.9,221.1 926.5,222.7"/>
<path d="M567.0,138.7C571.7,138.9 576.5,139.0 581.2,139.2C585.9,139.4 590.7,139.5 595.4,139.7C600.1,139.9 604.9,140.1 609.6,140.2C614.3,140.4 619.1,140.6 623.8,140.8C628.5,140.9 633.3,141.1 638.0,141.3C642.7,141.5 647.5,141.7 652.2,141.9C656.9,142.1 661.7,142.2 666.4,142.4C671.1,142.6 675.9,142.8 680.6,143.0C685.3,143.2 690.1,143.4 694.8,143.6C699.5,143.8 704.3,144.0 709.0,144.2C713.7,144.4 718.5,144.6 723.2,144.8C727.9,145.0 732.7,145.2 737.4,145.4C742.1,145.6 746.9,145.9 751.6,146.1C756.3,146.3 761.0,146.5 765.8,146.7C770.5,146.9 775.2,147.1 780.0,147.3C784.7,147.6 789.4,147.8 794.2,148.0C798.9,148.2 803.6,148.4 808.4,148.7C813.1,148.9 817.8,149.1 822.6,149.3C827.3,149.6 832.0,149.8 836.7,150.0C841.5,150.2 846.2,150.5 850.9,150.7C855.7,150.9 860.4,151.1 865.1,151.4C869.9,151.6 874.6,151.8 879.3,152.1C884.1,152.3 888.8,152.5 893.5,152.8C898.2,153.0 903.0,153.2 907.7,153.5C912.4,153.7 917.2,153.9 921.9,154.2C926.6,154.4 931.4,154.7 936.1,154.9C940.8,155.1 945.5,155.4 950.3,155.6C955.0,155.9 959.7,156.1 964.5,156.4C969.2,156.6 973.9,156.8 978.7,157.1C983.4,157.3 988.1,157.6 992.8,157.8C997.6,158.1 1002.3,158.3 1007.0,158.6C1011.8,158.8 1016.5,159.0 1021.2,159.3C1026.0,159.5 1030.7,159.8 1035.4,160.0C1040.2,160.3 1044.9,160.5 1049.6,160.8C1054.3,161.0 1059.1,161.3 1063.8,161.5C1068.5,161.8 1073.3,162.0 1078.0,162.3C1082.7,162.5 1087.5,162.8 1092.2,163.0C1096.9,163.3 1101.6,163.5 1106.4,163.8C1111.1,164.0 1115.8,164.3 1120.6,164.5C1125.3,164.8 1130.0,165.0 1134.8,165.3C1139.5,165.5 1144.2,165.8 1148.9,166.0C1153.7,166.3 1158.4,166.5 1163.1,166.8C1167.9,167.0 1172.6,167.3 1177.3,167.5C1182.1,167.8 1186.8,168.0 1191.5,168.3C1196.2,168.5 1201.0,168.8 1205.7,169.1C1210.4,169.3 1215.2,169.6 1219.9,169.8C1224.6,170.1 1229.4,170.3 1234.1,170.6C1238.8,170.9 1243.6,171.1 1248.3,171.4C1253.0,171.6 1257.7,171.9 1262.5,172.2C1267.2,172.4 1271.9,172.7 1276.7,172.9C1281.4,173.2 1286.1,173.5 1290.8,173.7C1295.6,174.0 1300.3,174.3 1305.0,174.6C1309.8,174.8 1314.5,175.1 1319.2,175.4C1323.9,175.7 1328.7,175.9 1333.4,176.2C1338.1,176.5 1342.9,176.8 1347.6,177.1C1352.3,177.3 1357.0,177.6 1361.8,177.9C1366.5,178.2 1371.2,178.5 1375.9,178.8C1380.7,179.1 1385.4,179.4 1390.1,179.7C1394.8,180.0 1399.6,180.3 1404.3,180.6C1409.0,180.9 1413.7,181.2 1418.5,181.5C1423.2,181.8 1427.9,182.2 1432.6,182.5C1437.3,182.8 1442.1,183.2 1446.8,183.5C1451.5,183.9 1456.2,184.3 1460.9,184.7C1465.7,185.1 1470.4,185.5 1475.1,185.9C1479.8,186.3 1484.5,186.8 1489.2,187.3C1493.9,187.8 1498.6,188.3 1503.3,188.8C1508.0,189.3 1512.7,189.9 1517.4,190.5C1522.1,191.1 1526.8,191.7 1531.5,192.4C1536.2,193.0 1540.9,193.7 1545.5,194.4C1550.2,195.2 1554.9,195.9 1559.6,196.7C1564.3,197.4 1568.9,198.2 1573.6,199.0C1578.3,199.8 1583.0,200.6 1587.6,201.4C1592.3,202.2 1597.0,203.0 1601.7,203.8C1606.3,204.6 1611.0,205.4 1615.7,206.2C1620.3,207.0 1625.0,207.8 1629.7,208.6"/>
<path d="M960.0,29.6C964.9,29.8 969.8,29.9 974.7,30.1C979.7,30.3 984.6,30.4 989.5,30.6C994.4,30.8 999.3,31.0 1004.2,31.2C1009.1,31.4 1014.0,31.6 1018.9,31.8C1023.8,32.0 1028.7,32.2 1033.6,32.4C1038.5,32.6 1043.4,32.8 1048.3,33.1C1053.2,33.3 1058.2,33.5 1063.1,33.7C1068.0,33.9 1072.9,34.2 1077.8,34.4C1082.7,34.6 1087.6,34.8 1092.5,35.1C1097.4,35.3 1102.3,35.5 1107.2,35.7C1112.1,36.0 1117.0,36.2 1121.9,36.4C1126.8,36.6 1131.7,36.9 1136.6,37.1C1141.5,37.3 1146.4,37.5 1151.3,37.8C1156.2,38.0 1161.1,38.2 1166.0,38.4C1170.9,38.6 1175.8,38.8 1180.7,39.0C1185.6,39.2 1190.5,39.5 1195.4,39.6C1200.3,39.8 1205.2,40.0 1210.1,40.2C1215.0,40.4 1219.9,40.6 1224.8,40.8C1229.8,41.0 1234.7,41.1 1239.6,41.3C1244.5,41.5 1249.4,41.6 1254.3,41.8C1259.2,41.9 1264.2,42.1 1269.1,42.2C1274.0,42.3 1278.9,42.5 1283.8,42.6C1288.7,42.8 1293.7,42.9 1298.6,43.1C1303.5,43.2 1308.4,43.4 1313.3,43.6C1318.2,43.8 1323.1,44.1 1328.0,44.4C1332.9,44.7 1337.8,45.0 1342.7,45.4C1347.6,45.7 1352.5,46.2 1357.4,46.7C1362.3,47.2 1367.1,47.7 1372.0,48.4C1376.8,49.0 1381.7,49.7 1386.5,50.5C1391.4,51.3 1396.2,52.2 1401.0,53.1C1405.8,54.1 1410.6,55.1 1415.4,56.4C1420.1,57.7 1424.8,59.0 1429.3,60.8C1433.7,62.6 1438.1,64.7 1442.0,67.3C1446.0,69.9 1449.8,73.1 1453.0,76.6C1456.5,80.3 1459.3,84.6 1461.9,88.9C1464.6,93.2 1466.6,97.8 1468.9,102.3"/>
<path d="M960.0,29.6C964.8,29.7 969.6,29.9 974.4,30.0C979.3,30.2 984.1,30.3 988.9,30.5C993.7,30.6 998.5,30.8 1003.3,30.9C1008.2,31.1 1013.0,31.2 1017.8,31.3C1022.6,31.5 1027.4,31.6 1032.2,31.7C1037.1,31.9 1041.9,32.0 1046.7,32.1C1051.5,32.3 1056.3,32.4 1061.1,32.5C1066.0,32.7 1070.8,32.8 1075.6,32.9C1080.4,33.0 1085.2,33.2 1090.0,33.3C1094.8,33.4 1099.7,33.6 1104.5,33.7C1109.3,33.8 1114.1,33.9 1118.9,34.1C1123.7,34.2 1128.6,34.3 1133.4,34.4C1138.2,34.6 1143.0,34.7 1147.8,34.8C1152.6,35.0 1157.5,35.1 1162.3,35.2C1167.1,35.4 1171.9,35.5 1176.7,35.6C1181.5,35.8 1186.3,35.9 1191.2,36.0C1196.0,36.2 1200.8,36.3 1205.6,36.4C1210.4,36.6 1215.2,36.7 1220.1,36.9C1224.9,37.0 1229.7,37.1 1234.5,37.3C1239.3,37.4 1244.1,37.6 1248.9,37.7C1253.8,37.9 1258.6,38.0 1263.4,38.2C1268.2,38.4 1273.0,38.5 1277.8,38.7C1282.6,38.8 1287.4,39.0 1292.3,39.2C1297.1,39.3 1301.9,39.5 1306.7,39.7C1311.5,39.9 1316.3,40.0 1321.1,40.2C1325.9,40.4 1330.8,40.6 1335.6,40.8C1340.4,41.0 1345.2,41.2 1350.0,41.4C1354.8,41.6 1359.6,41.8 1364.4,42.1C1369.2,42.3 1374.1,42.6 1378.9,42.9C1383.7,43.1 1388.5,43.4 1393.3,43.8C1398.1,44.1 1402.9,44.5 1407.7,44.9C1412.5,45.3 1417.3,45.7 1422.1,46.2C1427.0,46.6 1431.8,47.1 1436.6,47.7C1441.4,48.2 1446.2,48.8 1451.0,49.4C1455.8,50.1 1460.6,50.7 1465.4,51.5C1470.2,52.2 1475.0,52.9 1479.8,53.8C1484.6,54.7 1489.3,55.5 1494.1,56.6C1498.7,57.7 1503.4,58.9 1507.9,60.3C1512.4,61.7 1516.9,63.2 1521.2,65.1C1525.4,67.0 1529.6,69.1 1533.6,71.5C1537.5,73.9 1541.3,76.6 1544.8,79.7C1548.3,82.9 1551.7,86.4 1554.6,90.1C1557.7,94.2 1560.0,98.8 1562.8,103.1"/>
<path d="M960.0,29.6C964.8,29.7 969.6,29.9 974.4,30.0C979.2,30.1 984.0,30.2 988.7,30.3C993.5,30.5 998.3,30.6 1003.1,30.7C1007.9,30.8 1012.7,30.9 1017.5,31.0C1022.3,31.1 1027.1,31.2 1031.9,31.3C1036.7,31.4 1041.5,31.5 1046.3,31.6C1051.1,31.6 1055.9,31.7 1060.7,31.8C1065.5,31.9 1070.3,32.0 1075.1,32.1C1079.9,32.2 1084.7,32.2 1089.4,32.3C1094.2,32.4 1099.0,32.5 1103.8,32.5C1108.6,32.6 1113.4,32.7 1118.2,32.8C1123.0,32.9 1127.8,32.9 1132.6,33.0C1137.4,33.1 1142.2,33.2 1147.0,33.2C1151.8,33.3 1156.6,33.4 1161.4,33.5C1166.2,33.6 1171.0,33.6 1175.8,33.7C1180.6,33.8 1185.4,33.9 1190.2,34.0C1195.0,34.1 1199.8,34.1 1204.6,34.2C1209.4,34.3 1214.2,34.4 1219.0,34.5C1223.8,34.6 1228.6,34.7 1233.4,34.8C1238.2,34.9 1243.0,35.0 1247.7,35.1C1252.5,35.2 1257.3,35.4 1262.1,35.5C1266.9,35.6 1271.7,35.7 1276.5,35.8C1281.3,36.0 1286.1,36.1 1290.9,36.2C1295.7,36.4 1300.5,36.5 1305.3,36.6C1310.0,36.8 1314.8,36.9 1319.6,37.1C1324.4,37.2 1329.2,37.4 1334.0,37.6C1338.8,37.8 1343.6,37.9 1348.3,38.1C1353.1,38.3 1357.9,38.5 1362.7,38.7C1367.5,39.0 1372.3,39.2 1377.0,39.5C1381.8,39.7 1386.6,40.0 1391.4,40.3C1396.2,40.6 1401.0,40.9 1405.7,41.3C1410.5,41.6 1415.3,42.0 1420.1,42.4C1424.9,42.8 1429.7,43.3 1434.4,43.7C1439.2,44.2 1444.0,44.7 1448.8,45.3C1453.6,45.8 1458.4,46.4 1463.1,47.0C1467.9,47.6 1472.7,48.3 1477.5,49.0C1482.3,49.7 1487.1,50.5 1491.8,51.3C1496.6,52.1 1501.4,52.9 1506.1,54.0C1510.8,55.0 1515.4,56.1 1520.0,57.5C1524.4,58.9 1528.9,60.4 1533.1,62.4C1537.3,64.3 1541.4,66.4 1545.2,69.0C1549.0,71.6 1552.6,74.6 1555.8,77.9C1559.2,81.4 1562.2,85.2 1564.8,89.3C1567.5,93.6 1569.4,98.4 1571.8,103.0"/>
<path d="M1100.0,32.3L973.8,29.9"/>
<path d="M960.0,29.6C964.8,29.7 969.5,29.7 974.3,29.8C979.0,29.9 983.8,30.0 988.6,30.0C993.3,30.1 998.1,30.2 1002.9,30.2C1007.6,30.3 1012.4,30.4 1017.2,30.4C1021.9,30.5 1026.7,30.6 1031.5,30.6C1036.2,30.7 1041.0,30.8 1045.8,30.9C1050.5,30.9 1055.3,31.0 1060.1,31.1C1064.8,31.1 1069.6,31.2 1074.4,31.3C1079.2,31.4 1083.9,31.4 1088.7,31.5C1093.5,31.6 1098.2,31.7 1103.0,31.7C1107.8,31.8 1112.6,31.9 1117.3,31.9C1122.1,32.0 1126.9,32.1 1131.7,32.2C1136.4,32.3 1141.2,32.3 1146.0,32.4C1150.8,32.5 1155.5,32.6 1160.3,32.6C1165.1,32.7 1169.8,32.8 1174.6,32.9C1179.4,33.0 1184.2,33.0 1188.9,33.1C1193.7,33.2 1198.5,33.3 1203.3,33.4C1208.0,33.5 1212.8,33.6 1217.6,33.6C1222.4,33.7 1227.1,33.8 1231.9,33.9C1236.7,34.0 1241.5,34.1 1246.2,34.2C1251.0,34.3 1255.8,34.4 1260.6,34.5C1265.3,34.6 1270.1,34.7 1274.9,34.8C1279.7,34.9 1284.4,35.0 1289.2,35.1C1294.0,35.2 1298.7,35.3 1303.5,35.4C1308.3,35.5 1313.1,35.6 1317.8,35.7C1322.6,35.8 1327.4,35.9 1332.1,36.0C1336.9,36.1 1341.7,36.3 1346.4,36.4C1351.2,36.5 1356.0,36.6 1360.7,36.7C1365.5,36.8 1370.3,37.0 1375.0,37.1C1379.8,37.2 1384.6,37.3 1389.3,37.5C1394.1,37.6 1398.9,37.7 1403.6,37.9C1408.4,38.0 1413.1,38.1 1417.9,38.3C1422.7,38.4 1427.4,38.5 1432.2,38.7C1436.9,38.8 1441.7,39.0 1446.5,39.1C1451.2,39.3 1456.0,39.4 1460.7,39.6C1465.5,39.7 1470.2,39.9 1475.0,40.0C1479.7,40.2 1484.5,40.4 1489.2,40.5C1494.0,40.7 1498.7,40.9 1503.5,41.0C1508.3,41.2 1513.0,41.4 1517.8,41.6C1522.5,41.8 1527.3,42.0 1532.0,42.2C1536.8,42.4 1541.6,42.6 1546.3,42.8C1551.1,43.1 1555.8,43.3 1560.6,43.5C1565.4,43.8 1570.1,44.0 1574.9,44.3C1579.7,44.5 1584.5,44.8 1589.2,45.1C1594.0,45.4 1598.8,45.7 1603.6,46.0C1608.4,46.3 1613.1,46.6 1617.9,46.9C1622.7,47.3 1627.5,47.6 1632.3,48.0C1637.1,48.3 1641.9,48.7 1646.7,49.1C1651.5,49.5 1656.3,49.9 1661.2,50.3C1666.0,50.7 1670.8,51.1 1675.6,51.6C1680.5,52.1 1685.3,52.4 1690.1,53.0C1694.8,53.7 1699.6,54.2 1704.2,55.3C1708.5,56.4 1713.0,57.7 1717.0,59.7C1720.9,61.7 1724.7,64.3 1727.8,67.4C1731.1,70.6 1733.9,74.4 1736.0,78.4C1738.3,82.5 1739.9,87.0 1741.1,91.6C1742.2,96.2 1742.6,101.1 1742.7,105.8C1742.8,110.6 1742.3,115.4 1741.5,120.1C1740.7,124.8 1739.4,129.5 1738.0,134.1C1736.5,138.8 1734.7,143.3 1732.7,147.8C1730.7,152.3 1728.5,156.8 1726.2,161.1C1723.9,165.5 1721.5,169.7 1719.1,174.0C1716.7,178.1 1714.2,182.2 1711.8,186.3C1709.5,190.2 1707.3,194.1 1705.0,198.0"/>
<path d="M960.0,29.6C964.8,29.7 969.5,29.7 974.3,29.8C979.1,29.9 983.9,29.9 988.6,30.0C993.4,30.0 998.2,30.1 1002.9,30.2C1007.7,30.2 1012.5,30.3 1017.3,30.4C1022.0,30.4 1026.8,30.5 1031.6,30.5C1036.3,30.6 1041.1,30.7 1045.9,30.7C1050.7,30.8 1055.4,30.8 1060.2,30.9C1065.0,31.0 1069.8,31.0 1074.5,31.1C1079.3,31.1 1084.1,31.2 1088.9,31.3C1093.6,31.3 1098.4,31.4 1103.2,31.5C1108.0,31.5 1112.7,31.6 1117.5,31.6C1122.3,31.7 1127.1,31.8 1131.8,31.8C1136.6,31.9 1141.4,32.0 1146.2,32.0C1150.9,32.1 1155.7,32.2 1160.5,32.2C1165.3,32.3 1170.0,32.4 1174.8,32.5C1179.6,32.5 1184.4,32.6 1189.1,32.7C1193.9,32.8 1198.7,32.8 1203.5,32.9C1208.2,33.0 1213.0,33.1 1217.8,33.1C1222.6,33.2 1227.4,33.3 1232.1,33.4C1236.9,33.5 1241.7,33.5 1246.5,33.6C1251.2,33.7 1256.0,33.8 1260.8,33.9C1265.6,34.0 1270.3,34.1 1275.1,34.2C1279.9,34.3 1284.7,34.4 1289.4,34.5C1294.2,34.6 1299.0,34.7 1303.8,34.8C1308.5,34.9 1313.3,35.0 1318.1,35.1C1322.9,35.2 1327.6,35.3 1332.4,35.4C1337.2,35.5 1341.9,35.6 1346.7,35.8C1351.5,35.9 1356.3,36.0 1361.0,36.1C1365.8,36.3 1370.6,36.4 1375.4,36.5C1380.1,36.6 1384.9,36.8 1389.7,36.9C1394.4,37.0 1399.2,37.2 1404.0,37.3C1408.8,37.5 1413.5,37.6 1418.3,37.8C1423.1,37.9 1427.8,38.1 1432.6,38.2C1437.4,38.4 1442.1,38.5 1446.9,38.7C1451.7,38.9 1456.5,39.0 1461.2,39.2C1466.0,39.4 1470.8,39.5 1475.5,39.7C1480.3,39.9 1485.1,40.1 1489.8,40.3C1494.6,40.4 1499.4,40.6 1504.1,40.8C1508.9,41.0 1513.6,41.2 1518.4,41.4C1523.2,41.6 1527.9,41.8 1532.7,42.0C1537.5,42.2 1542.2,42.5 1547.0,42.7C1551.7,42.9 1556.5,43.1 1561.3,43.4C1566.0,43.6 1570.8,43.8 1575.6,44.1C1580.3,44.3 1585.1,44.6 1589.9,44.8C1594.6,45.1 1599.4,45.4 1604.2,45.6C1608.9,45.9 1613.7,46.2 1618.5,46.5C1623.3,46.8 1628.0,47.1 1632.8,47.4C1637.6,47.7 1642.4,48.0 1647.2,48.3C1651.9,48.7 1656.7,49.0 1661.5,49.4C1666.3,49.7 1671.1,50.1 1675.9,50.5C1680.7,50.9 1685.5,51.2 1690.3,51.7C1695.0,52.2 1699.8,52.7 1704.6,53.3C1709.3,53.9 1714.0,54.6 1718.7,55.4C1723.3,56.3 1727.9,57.2 1732.5,58.4C1737.0,59.5 1741.6,60.7 1745.9,62.4C1750.2,64.0 1754.5,65.9 1758.3,68.4C1762.1,71.0 1765.5,74.4 1768.7,77.7C1772.1,81.2 1775.1,85.1 1777.9,89.0C1780.8,92.9 1783.6,97.0 1786.0,101.3C1788.5,105.5 1790.7,109.9 1792.6,114.4C1794.5,118.7 1796.2,123.3 1797.5,127.9C1798.8,132.4 1799.8,137.0 1800.6,141.6C1801.5,146.2 1802.0,150.9 1802.4,155.5C1802.9,160.2 1803.1,164.9 1803.3,169.6C1803.5,174.4 1803.6,179.1 1803.6,183.9C1803.7,188.6 1803.6,193.4 1803.6,198.2C1803.5,203.0 1803.4,207.8 1803.3,212.6C1803.2,217.4 1803.1,222.3 1803.0,227.1C1802.9,231.9 1802.8,236.7 1802.7,241.5C1802.7,246.2 1802.6,251.0 1802.7,255.8C1802.7,260.5 1802.9,265.3 1803.0,270.0"/>
<path d="M1803.0,270.0L1803.0,664.0"/>
<path d="M1803.0,664.0C1803.0,668.7 1802.9,673.4 1803.0,678.0C1803.0,682.9 1803.3,687.8 1803.4,692.7C1803.5,697.7 1803.7,702.6 1803.7,707.6C1803.6,712.6 1803.6,717.6 1803.2,722.5C1802.8,727.4 1802.3,732.3 1801.4,737.0C1800.6,741.7 1799.4,746.4 1797.9,750.9C1796.4,755.3 1794.5,759.6 1792.4,763.8C1790.2,767.9 1787.7,771.9 1784.9,775.6C1782.1,779.3 1778.9,782.8 1775.5,786.0C1772.1,789.4 1768.4,792.4 1764.6,795.3C1760.7,798.3 1756.7,801.0 1752.6,803.6C1748.5,806.3 1744.3,808.8 1740.1,811.3C1735.8,813.7 1731.6,816.1 1727.3,818.4C1723.0,820.7 1718.6,823.0 1714.3,825.1C1709.9,827.2 1705.5,829.3 1701.1,831.2C1696.7,833.2 1692.2,835.0 1687.7,836.8C1683.2,838.6 1678.7,840.3 1674.2,841.9C1669.6,843.5 1665.0,845.0 1660.4,846.4C1655.8,847.8 1651.2,849.1 1646.6,850.3C1641.9,851.6 1637.2,852.7 1632.6,853.8C1627.9,854.9 1623.2,855.9 1618.5,856.9C1613.7,857.9 1609.0,858.8 1604.3,859.7C1599.5,860.6 1594.8,861.4 1590.0,862.2C1585.3,863.1 1580.5,863.9 1575.7,864.7C1571.0,865.5 1566.2,866.3 1561.5,867.0C1556.7,867.8 1551.9,868.6 1547.2,869.3C1542.4,870.0 1537.6,870.8 1532.8,871.5C1528.1,872.2 1523.3,872.9 1518.5,873.6C1513.7,874.3 1509.0,875.0 1504.2,875.7C1499.4,876.3 1494.6,877.0 1489.8,877.6C1485.0,878.3 1480.3,878.9 1475.5,879.5C1470.7,880.1 1465.9,880.7 1461.1,881.3C1456.3,881.9 1451.5,882.5 1446.7,883.1C1441.9,883.6 1437.1,884.2 1432.3,884.7C1427.5,885.3 1422.7,885.8 1417.9,886.3C1413.1,886.8 1408.3,887.3 1403.5,887.8C1398.7,888.3 1393.9,888.8 1389.1,889.3C1384.3,889.8 1379.5,890.2 1374.7,890.7C1369.9,891.1 1365.1,891.5 1360.3,892.0C1355.5,892.4 1350.7,892.8 1345.8,893.2C1341.0,893.6 1336.2,894.0 1331.4,894.4C1326.6,894.7 1321.8,895.1 1317.0,895.5C1312.1,895.8 1307.3,896.2 1302.5,896.5C1297.7,896.8 1292.9,897.2 1288.1,897.5C1283.2,897.8 1278.4,898.1 1273.6,898.4C1268.8,898.6 1264.0,898.9 1259.1,899.2C1254.3,899.5 1249.5,899.7 1244.7,900.0C1239.9,900.2 1235.0,900.4 1230.2,900.7C1225.4,900.9 1220.6,901.1 1215.8,901.3C1210.9,901.5 1206.1,901.7 1201.3,901.9C1196.5,902.1 1191.6,902.2 1186.8,902.4"/>
<path d="M1444.8,159.2C1408.0,165.0 1371.2,170.9 1334.4,176.7C1286.3,184.3 1238.1,191.8 1190.0,199.4C1134.3,208.1 1078.6,216.9 1023.0,225.6"/>
<path d="M1444.8,159.2C1440.1,160.7 1435.4,162.3 1430.7,163.7C1425.9,165.1 1421.1,166.3 1416.3,167.5C1411.5,168.8 1406.7,169.9 1401.9,171.0C1397.0,172.1 1392.2,173.2 1387.3,174.3C1382.5,175.3 1377.6,176.4 1372.8,177.5C1367.9,178.6 1363.1,179.8 1358.3,181.0C1353.5,182.2 1348.7,183.5 1344.0,184.9C1339.2,186.3 1334.5,187.7 1329.9,189.3C1325.2,190.9 1320.6,192.7 1316.0,194.5C1311.5,196.4 1307.0,198.3 1302.5,200.3C1298.0,202.4 1293.5,204.5 1289.1,206.8C1284.7,209.0 1280.4,211.3 1276.1,213.7C1271.7,216.1 1267.4,218.6 1263.2,221.2C1258.9,223.7 1254.7,226.3 1250.6,229.0C1246.4,231.7 1242.2,234.4 1238.1,237.2C1234.0,240.0 1229.9,242.8 1225.9,245.7C1221.9,248.6 1217.9,251.5 1213.9,254.5C1209.9,257.5 1206.0,260.5 1202.1,263.6C1198.2,266.6 1194.4,269.8 1190.6,272.9C1186.8,276.1 1183.1,279.4 1179.3,282.6C1175.6,285.9 1172.0,289.3 1168.4,292.6C1164.8,296.0 1161.2,299.5 1157.7,302.9C1154.2,306.4 1150.7,310.0 1147.3,313.5C1143.9,317.1 1140.6,320.8 1137.2,324.4C1133.9,328.1 1130.6,331.8 1127.4,335.5C1124.1,339.2 1120.8,342.9 1117.6,346.7C1114.3,350.4 1111.1,354.2 1107.9,357.9C1104.7,361.7 1101.4,365.4 1098.2,369.2C1094.9,372.9 1091.7,376.7 1088.4,380.4C1085.1,384.1 1081.7,387.7 1078.4,391.4"/>
<path d="M1444.8,159.2C1439.9,160.2 1435.0,161.2 1430.2,162.3C1425.5,163.4 1420.8,164.7 1416.1,165.9C1411.4,167.1 1406.8,168.5 1402.2,169.8C1397.6,171.0 1392.9,172.4 1388.3,173.6C1383.6,174.8 1378.8,176.0 1374.1,177.1C1369.2,178.2 1364.3,179.2 1359.5,180.3C1354.6,181.4 1349.6,182.4 1344.8,183.6C1339.9,184.8 1335.1,186.0 1330.3,187.5C1325.6,188.9 1320.9,190.5 1316.4,192.3C1311.9,194.1 1307.5,196.1 1303.2,198.4C1298.9,200.6 1294.8,203.0 1290.7,205.6C1286.7,208.2 1282.7,211.0 1278.9,214.0C1275.1,216.9 1271.4,220.0 1267.7,223.2C1264.1,226.4 1260.6,229.7 1257.1,233.2C1253.7,236.6 1250.3,240.2 1247.0,243.8C1243.7,247.4 1240.5,251.1 1237.3,254.9C1234.2,258.7 1231.1,262.5 1228.0,266.4C1225.0,270.2 1222.0,274.2 1219.1,278.1C1216.1,282.0 1213.2,286.0 1210.4,290.0C1207.5,293.9 1204.7,298.0 1201.9,302.0C1199.2,306.0 1196.4,310.1 1193.7,314.1C1190.9,318.2 1188.2,322.2 1185.6,326.3C1182.9,330.4 1180.2,334.5 1177.5,338.6C1174.9,342.7 1172.2,346.8 1169.5,350.9C1166.9,355.0 1164.2,359.1 1161.6,363.1C1158.9,367.2 1156.2,371.3 1153.5,375.4C1150.8,379.5 1148.1,383.6 1145.4,387.6C1142.7,391.7 1139.9,395.7 1137.1,399.7C1134.4,403.8 1131.6,407.8 1128.8,411.8C1126.0,415.9 1123.2,419.9 1120.4,423.9C1117.7,427.9 1114.9,432.0 1112.2,436.0C1109.4,440.1 1106.7,444.2 1104.0,448.3C1101.3,452.4 1098.7,456.5 1096.1,460.6C1093.5,464.8 1091.0,468.9 1088.5,473.1C1086.0,477.4 1083.7,481.7 1081.3,485.9"/>
<path d="M1541.3,156.8C1536.7,158.5 1532.2,160.4 1527.6,162.0C1523.1,163.6 1518.5,165.1 1513.9,166.4C1509.3,167.8 1504.7,169.0 1500.1,170.1C1495.4,171.3 1490.8,172.3 1486.1,173.3C1481.4,174.3 1476.7,175.1 1471.9,176.0C1467.2,176.9 1462.4,177.7 1457.6,178.5C1452.8,179.3 1447.9,180.0 1443.1,180.9C1438.3,181.8 1433.5,182.7 1428.8,183.9C1424.1,185.1 1419.5,186.4 1415.0,188.1C1410.6,189.8 1406.2,191.8 1402.1,194.1C1398.0,196.5 1394.1,199.3 1390.4,202.3C1386.7,205.3 1383.2,208.6 1380.0,212.2C1376.7,215.7 1373.6,219.5 1370.8,223.4C1368.0,227.4 1365.4,231.5 1363.0,235.7C1360.6,239.9 1358.5,244.3 1356.5,248.7C1354.6,253.1 1352.9,257.6 1351.5,262.2C1350.0,266.8 1348.7,271.5 1347.7,276.1C1346.7,280.8 1345.9,285.6 1345.3,290.4C1344.7,295.1 1344.3,299.9 1344.0,304.7C1343.8,309.6 1343.7,314.4 1343.8,319.2C1343.8,324.1 1344.0,328.9 1344.3,333.8C1344.6,338.6 1344.9,343.4 1345.3,348.3C1345.7,353.1 1346.2,357.9 1346.7,362.7C1347.1,367.5 1347.6,372.3 1348.1,377.0C1348.5,381.8 1349.0,386.5 1349.4,391.2C1349.8,396.0 1350.2,400.7 1350.5,405.4C1350.8,410.2 1351.1,415.0 1351.3,419.7C1351.5,424.6 1351.7,429.4 1351.8,434.2C1351.8,439.2 1351.9,444.1 1351.7,449.0C1351.6,453.9 1351.4,458.9 1350.9,463.8C1350.5,468.7 1350.0,473.6 1349.1,478.5C1348.4,483.2 1347.4,488.0 1346.1,492.6C1344.9,497.2 1343.4,501.7 1341.6,506.1C1339.8,510.3 1337.7,514.5 1335.3,518.5C1332.8,522.4 1330.0,526.2 1326.9,529.5C1323.7,533.0 1320.1,536.3 1316.2,539.0C1312.1,542.0 1307.4,544.1 1303.0,546.7"/>
<path d="M1303.0,546.7C1298.3,548.2 1293.6,549.7 1288.8,551.1C1284.1,552.6 1279.4,553.9 1274.6,555.3C1269.9,556.6 1265.1,557.9 1260.3,559.2C1255.6,560.5 1250.8,561.7 1246.0,562.9C1241.2,564.0 1236.4,565.2 1231.6,566.3C1226.8,567.4 1222.0,568.5 1217.1,569.5C1212.3,570.6 1207.5,571.6 1202.6,572.6C1197.8,573.5 1192.9,574.5 1188.1,575.4C1183.2,576.3 1178.4,577.2 1173.5,578.1C1168.7,578.9 1163.8,579.8 1158.9,580.6C1154.0,581.4 1149.1,582.2 1144.3,582.9C1139.4,583.7 1134.5,584.4 1129.6,585.1C1124.7,585.8 1119.8,586.5 1114.9,587.2C1110.0,587.9 1105.1,588.5 1100.2,589.2C1095.3,589.8 1090.4,590.4 1085.5,591.0C1080.6,591.6 1075.7,592.2 1070.7,592.8C1065.8,593.4 1060.9,594.0 1056.0,594.5C1051.1,595.1 1046.2,595.6 1041.3,596.1C1036.3,596.6 1031.4,597.2 1026.5,597.7C1021.6,598.2 1016.7,598.7 1011.8,599.1C1006.8,599.6 1001.9,600.1 997.0,600.5C992.1,601.0 987.1,601.4 982.2,601.9C977.3,602.3 972.4,602.7 967.4,603.1C962.5,603.5 957.6,603.9 952.7,604.3C947.7,604.7 942.8,605.1 937.9,605.5C933.0,605.8 928.0,606.2 923.1,606.5C918.2,606.9 913.2,607.2 908.3,607.5C903.4,607.9 898.4,608.2 893.5,608.5C888.6,608.8 883.7,609.1 878.7,609.4C873.8,609.6 868.9,609.9 863.9,610.2C859.0,610.5 854.0,610.7 849.1,611.0C844.2,611.2 839.2,611.5 834.3,611.7"/>
<path d="M1541.3,156.8C1536.8,158.5 1532.3,160.3 1527.7,161.9C1523.2,163.4 1518.6,164.8 1514.0,166.2C1509.4,167.6 1504.8,168.8 1500.2,170.0C1495.5,171.2 1490.9,172.3 1486.2,173.4C1481.6,174.6 1476.9,175.6 1472.3,176.8C1467.6,177.9 1463.0,179.0 1458.4,180.1C1453.8,181.3 1449.1,182.5 1444.5,183.8C1440.0,185.1 1435.4,186.4 1430.8,187.9C1426.3,189.4 1421.8,191.0 1417.3,192.7C1412.9,194.5 1408.4,196.3 1404.1,198.3C1399.7,200.3 1395.3,202.4 1391.1,204.6C1386.8,206.8 1382.6,209.2 1378.4,211.7C1374.3,214.1 1370.2,216.7 1366.2,219.4C1362.2,222.1 1358.2,224.8 1354.4,227.7C1350.5,230.6 1346.7,233.6 1343.0,236.7C1339.4,239.8 1335.8,243.0 1332.3,246.3C1328.8,249.5 1325.4,252.9 1322.1,256.3C1318.8,259.8 1315.6,263.3 1312.4,266.9C1309.3,270.5 1306.3,274.2 1303.3,277.9C1300.4,281.7 1297.5,285.5 1294.7,289.4C1291.9,293.3 1289.2,297.2 1286.6,301.2C1284.0,305.2 1281.4,309.3 1279.0,313.3C1276.5,317.4 1274.1,321.6 1271.7,325.8C1269.4,330.0 1267.1,334.2 1264.9,338.4C1262.7,342.7 1260.5,347.0 1258.4,351.3C1256.3,355.6 1254.2,360.0 1252.1,364.3C1250.1,368.6 1248.0,373.0 1246.0,377.3C1243.9,381.7 1241.9,386.0 1239.8,390.3C1237.7,394.7 1235.6,399.0 1233.5,403.3C1231.4,407.6 1229.2,411.8 1227.0,416.1C1224.8,420.3 1222.5,424.5 1220.1,428.6C1217.7,432.8 1215.3,436.9 1212.8,440.9C1210.3,445.0 1207.7,449.0 1205.1,453.0C1202.4,457.0 1199.7,461.0 1197.0,464.9C1194.2,468.9 1191.3,472.8 1188.4,476.7C1185.5,480.6 1182.6,484.5 1179.5,488.3C1176.5,492.0 1173.4,495.8 1170.1,499.4C1166.9,503.0 1163.6,506.6 1160.2,509.9C1156.8,513.3 1153.2,516.5 1149.6,519.6C1145.9,522.6 1142.1,525.4 1138.2,528.1C1134.4,530.8 1130.4,533.4 1126.3,535.8C1122.2,538.2 1118.1,540.5 1113.8,542.6C1109.6,544.8 1105.3,546.8 1100.9,548.7C1096.6,550.7 1092.1,552.5 1087.7,554.2C1083.2,556.0 1078.7,557.6 1074.1,559.2C1069.6,560.8 1065.0,562.3 1060.4,563.8C1055.8,565.3 1051.2,566.7 1046.6,568.1C1042.0,569.5 1037.3,570.9 1032.7,572.2C1028.1,573.5 1023.4,574.8 1018.8,576.0C1014.1,577.3 1009.5,578.5 1004.8,579.7C1000.2,580.8 995.5,582.0 990.8,583.1C986.2,584.2 981.5,585.2 976.8,586.2C972.1,587.3 967.4,588.2 962.7,589.2C958.0,590.1 953.3,591.0 948.6,591.8C943.9,592.7 939.2,593.5 934.5,594.3C929.8,595.0 925.0,595.8 920.3,596.4C915.6,597.1 910.8,597.7 906.1,598.3C901.3,598.9 896.6,599.4 891.8,599.9C887.0,600.4 882.3,600.8 877.5,601.2C872.7,601.6 867.9,602.0 863.1,602.3C858.3,602.5 853.5,602.8 848.7,603.0C843.9,603.2 839.1,603.3 834.3,603.4"/>
<path d="M1541.3,158.0C1537.0,160.2 1532.5,162.2 1528.4,164.7C1524.3,167.1 1520.4,169.9 1516.7,172.8C1513.0,175.7 1509.5,178.9 1506.1,182.2C1502.8,185.5 1499.6,189.0 1496.6,192.6C1493.6,196.2 1490.8,200.0 1488.1,203.9C1485.4,207.8 1482.8,211.8 1480.4,215.9C1478.0,220.0 1475.8,224.3 1473.7,228.5C1471.6,232.8 1469.6,237.2 1467.7,241.6C1465.9,246.0 1464.2,250.5 1462.6,255.0C1461.0,259.5 1459.5,264.0 1458.2,268.6C1456.9,273.2 1455.7,277.9 1454.7,282.5C1453.7,287.2 1452.8,291.8 1452.1,296.5C1451.4,301.2 1450.9,305.9 1450.5,310.6C1450.2,315.3 1450.0,320.0 1450.0,324.8C1449.9,329.5 1450.1,334.2 1450.4,338.9C1450.6,343.6 1451.1,348.3 1451.5,353.0C1451.9,357.7 1452.4,362.5 1452.9,367.2C1453.3,371.9 1453.8,376.7 1454.2,381.4C1454.6,386.2 1455.0,391.0 1455.2,395.8C1455.5,400.6 1455.6,405.4 1455.6,410.2C1455.7,415.0 1455.6,419.8 1455.4,424.6C1455.2,429.4 1454.9,434.2 1454.4,439.0C1454.0,443.7 1453.4,448.5 1452.7,453.2C1451.9,457.9 1451.0,462.5 1450.0,467.1C1448.9,471.7 1447.7,476.3 1446.3,480.8C1445.0,485.3 1443.4,489.7 1441.7,494.1C1439.9,498.4 1438.0,502.7 1435.8,506.9C1433.7,511.1 1431.4,515.2 1428.8,519.2C1426.3,523.2 1423.5,527.1 1420.6,530.8C1417.6,534.6 1414.5,538.3 1411.2,541.8C1407.9,545.3 1404.5,548.6 1400.9,551.8C1397.3,555.0 1393.6,558.1 1389.8,560.9C1386.1,563.8 1382.1,566.5 1378.2,569.1C1374.2,571.8 1370.2,574.2 1366.1,576.7C1362.0,579.1 1357.9,581.5 1353.7,583.8C1349.5,586.1 1345.3,588.4 1341.1,590.6C1336.8,592.7 1332.5,594.9 1328.2,596.9C1323.9,599.0 1319.6,601.0 1315.2,602.9C1310.9,604.9 1306.5,606.8 1302.1,608.6C1297.7,610.5 1293.3,612.3 1288.9,614.0C1284.4,615.8 1280.0,617.5 1275.5,619.1C1271.1,620.7 1266.6,622.3 1262.1,623.9C1257.6,625.4 1253.1,626.9 1248.6,628.4C1244.1,629.9 1239.6,631.3 1235.0,632.7C1230.5,634.0 1226.0,635.4 1221.4,636.7C1216.8,638.0 1212.3,639.2 1207.7,640.4C1203.1,641.7 1198.5,642.8 1193.9,644.0C1189.3,645.1 1184.7,646.2 1180.0,647.3C1175.4,648.4 1170.8,649.4 1166.1,650.5C1161.5,651.5 1156.8,652.5 1152.2,653.4C1147.5,654.4 1142.9,655.3 1138.2,656.2C1133.5,657.1 1128.8,658.0 1124.1,658.8C1119.5,659.7 1114.8,660.5 1110.1,661.3C1105.4,662.1 1100.7,662.9 1096.0,663.7C1091.3,664.4 1086.6,665.2 1081.8,665.9C1077.1,666.6 1072.4,667.3 1067.7,668.0C1063.0,668.7 1058.3,669.4 1053.5,670.1C1048.8,670.7 1044.1,671.4 1039.4,672.0C1034.6,672.6 1029.9,673.3 1025.2,673.9C1020.4,674.5 1015.7,675.1 1011.0,675.7C1006.3,676.3 1001.5,676.9 996.8,677.5C992.1,678.1 987.4,678.7 982.6,679.2C977.9,679.8 973.2,680.4 968.5,680.9C963.7,681.5 959.0,682.1 954.3,682.6C949.6,683.2 944.8,683.7 940.1,684.3C935.4,684.8 930.7,685.3 925.9,685.9C921.2,686.4 916.5,686.9 911.8,687.4C907.0,687.9 902.3,688.5 897.6,689.0C892.9,689.5 888.1,690.0 883.4,690.5C878.7,691.0 874.0,691.5 869.2,692.0C864.5,692.5 859.8,693.0 855.1,693.4C850.3,693.9 845.6,694.4 840.9,694.9C836.2,695.4 831.4,695.9 826.7,696.3C822.0,696.8 817.2,697.3 812.5,697.7C807.8,698.2 803.0,698.7 798.3,699.1C793.6,699.6 788.8,700.1 784.1,700.5C779.4,701.0 774.6,701.5 769.9,701.9C765.2,702.4 760.4,702.8 755.7,703.3C751.0,703.7 746.2,704.2 741.5,704.6C736.7,705.1 732.0,705.6 727.2,706.0C722.5,706.5 717.8,706.9 713.0,707.4C708.3,707.8 703.5,708.3 698.8,708.7"/>
<path d="M1560.6,161.6C1557.8,165.7 1554.8,169.7 1552.3,174.0C1549.9,178.2 1547.8,182.7 1545.7,187.1C1543.7,191.6 1541.9,196.2 1540.1,200.7C1538.3,205.3 1536.7,209.9 1534.9,214.5C1533.2,219.2 1531.5,223.8 1529.7,228.4C1528.0,233.0 1526.1,237.6 1524.4,242.2C1522.6,246.8 1520.8,251.4 1519.1,256.0C1517.4,260.6 1515.8,265.3 1514.2,269.9C1512.7,274.6 1511.2,279.3 1509.8,284.0C1508.3,288.7 1507.0,293.5 1505.8,298.2C1504.5,303.0 1503.3,307.8 1502.2,312.6C1501.2,317.4 1500.2,322.2 1499.3,327.0C1498.3,331.8 1497.5,336.7 1496.8,341.5C1496.0,346.4 1495.4,351.3 1494.8,356.2C1494.2,361.1 1493.7,366.0 1493.3,370.9C1492.8,375.8 1492.5,380.7 1492.1,385.6C1491.8,390.5 1491.5,395.5 1491.3,400.4C1491.1,405.4 1490.9,410.3 1490.7,415.2C1490.6,420.2 1490.5,425.1 1490.4,430.1C1490.3,435.0 1490.2,440.0 1490.2,444.9C1490.1,449.9 1490.1,454.8 1490.0,459.7C1490.0,464.7 1489.9,469.6 1489.9,474.5C1489.9,479.5 1489.8,484.4 1489.7,489.3C1489.7,494.2 1489.6,499.1 1489.5,504.0"/>
<path d="M1489.5,504.0L1489.5,582.0"/>
<path d="M1489.5,582.0C1489.9,586.9 1490.5,591.7 1490.7,596.6C1491.0,601.5 1491.1,606.4 1490.8,611.3C1490.5,616.1 1490.0,620.9 1489.0,625.6C1488.0,630.2 1486.6,634.8 1484.9,639.1C1483.1,643.5 1480.9,647.7 1478.5,651.7C1476.1,655.7 1473.2,659.6 1470.3,663.2C1467.3,666.9 1464.0,670.4 1460.7,673.7C1457.3,677.0 1453.6,680.1 1449.9,683.1C1446.2,686.1 1442.3,688.9 1438.3,691.5C1434.3,694.2 1430.1,696.7 1425.9,699.1C1421.7,701.5 1417.3,703.7 1412.9,705.9C1408.5,708.0 1404.1,710.0 1399.6,712.0C1395.1,713.9 1390.6,715.7 1386.0,717.5C1381.5,719.2 1376.9,720.8 1372.4,722.4C1367.8,724.0 1363.2,725.5 1358.6,726.9C1354.0,728.4 1349.4,729.7 1344.8,731.0C1340.2,732.3 1335.6,733.6 1330.9,734.8C1326.3,736.0 1321.7,737.1 1317.0,738.2C1312.4,739.4 1307.7,740.4 1303.1,741.5C1298.4,742.5 1293.7,743.6 1289.0,744.6C1284.4,745.6 1279.7,746.6 1275.0,747.5C1270.3,748.5 1265.6,749.5 1260.9,750.4C1256.2,751.4 1251.5,752.4 1246.8,753.3C1242.1,754.3 1237.4,755.3 1232.6,756.2C1227.9,757.2 1223.2,758.1 1218.5,759.0C1213.7,760.0 1209.0,760.9 1204.3,761.8C1199.6,762.7 1194.8,763.6 1190.1,764.5C1185.3,765.4 1180.6,766.3 1175.9,767.2C1171.1,768.0 1166.4,768.9 1161.6,769.7C1156.9,770.6 1152.1,771.4 1147.4,772.2C1142.6,773.0 1137.8,773.8 1133.1,774.5C1128.3,775.3 1123.6,776.0 1118.8,776.8C1114.1,777.5 1109.3,778.2 1104.5,778.9C1099.8,779.6 1095.0,780.3 1090.2,780.9C1085.5,781.6 1080.7,782.2 1075.9,782.9C1071.2,783.5 1066.4,784.1 1061.6,784.7C1056.8,785.3 1052.1,785.9 1047.3,786.5C1042.5,787.0 1037.7,787.6 1032.9,788.1C1028.2,788.7 1023.4,789.2 1018.6,789.7C1013.8,790.2 1009.0,790.7 1004.3,791.2C999.5,791.7 994.7,792.2 989.9,792.6C985.1,793.1 980.3,793.5 975.5,794.0C970.7,794.4 965.9,794.8 961.2,795.2C956.4,795.6 951.6,796.0 946.8,796.4C942.0,796.8 937.2,797.2 932.4,797.5C927.6,797.9 922.8,798.3 918.0,798.6C913.2,798.9 908.4,799.3 903.6,799.6C898.8,799.9 894.0,800.2 889.2,800.5C884.4,800.8 879.6,801.1 874.8,801.4C870.0,801.7 865.2,802.0 860.4,802.2C855.6,802.5 850.8,802.7 846.0,803.0C841.2,803.2 836.4,803.5 831.6,803.7C826.7,803.9 821.9,804.2 817.1,804.4C812.3,804.6 807.5,804.8 802.7,805.0C797.9,805.2 793.1,805.4 788.3,805.6C783.5,805.8 778.7,806.0 773.8,806.2C769.0,806.3 764.2,806.5 759.4,806.7C754.6,806.8 749.8,807.0 745.0,807.1C740.2,807.3 735.4,807.5 730.6,807.6C725.7,807.7 720.9,807.9 716.1,808.0"/>
<path d="M1578.3,161.6C1578.6,166.6 1578.9,171.5 1579.2,176.5C1579.5,181.4 1579.8,186.4 1580.1,191.3C1580.4,196.3 1580.7,201.3 1580.9,206.2C1581.2,211.2 1581.5,216.1 1581.7,221.1C1582.0,226.0 1582.2,231.0 1582.5,236.0C1582.7,240.9 1583.0,245.9 1583.2,250.8C1583.5,255.8 1583.7,260.8 1583.9,265.7C1584.1,270.7 1584.3,275.7 1584.5,280.6C1584.8,285.6 1585.0,290.5 1585.2,295.5C1585.4,300.5 1585.5,305.4 1585.7,310.4C1585.9,315.4 1586.1,320.3 1586.3,325.3C1586.4,330.2 1586.6,335.2 1586.8,340.2C1586.9,345.1 1587.1,350.1 1587.2,355.1C1587.4,360.0 1587.5,365.0 1587.7,370.0C1587.8,374.9 1588.0,379.9 1588.1,384.8C1588.2,389.8 1588.3,394.8 1588.5,399.7C1588.6,404.7 1588.7,409.7 1588.8,414.6C1588.9,419.6 1589.0,424.6 1589.1,429.5C1589.2,434.5 1589.3,439.5 1589.4,444.4C1589.5,449.4 1589.6,454.4 1589.6,459.3C1589.7,464.3 1589.8,469.2 1589.8,474.2C1589.9,479.2 1590.0,484.1 1590.0,489.1C1590.1,494.1 1590.1,499.0 1590.2,504.0"/>
<path d="M1590.2,504.0L1590.2,679.0"/>
<path d="M1590.2,679.0C1590.3,683.8 1590.6,688.7 1590.6,693.5C1590.7,698.6 1590.9,703.6 1590.7,708.7C1590.5,713.7 1590.2,718.8 1589.5,723.8C1588.8,728.7 1587.8,733.6 1586.4,738.3C1584.9,742.9 1583.1,747.4 1580.8,751.6C1578.5,755.8 1575.7,759.8 1572.6,763.5C1569.5,767.2 1566.0,770.6 1562.4,773.8C1558.7,777.0 1554.7,779.9 1550.6,782.6C1546.5,785.4 1542.1,787.8 1537.7,790.0C1533.3,792.3 1528.7,794.3 1524.2,796.2C1519.6,798.2 1514.9,799.9 1510.3,801.7C1505.7,803.6 1501.0,805.3 1496.4,807.1C1491.8,809.0 1487.2,810.9 1482.7,812.9C1478.2,814.8 1473.7,816.9 1469.2,818.9C1464.7,821.0 1460.3,823.1 1455.9,825.2C1451.4,827.3 1447.0,829.4 1442.5,831.4C1438.0,833.4 1433.5,835.5 1429.0,837.4C1424.5,839.4 1420.0,841.4 1415.5,843.3C1410.9,845.2 1406.4,847.0 1401.8,848.8C1397.2,850.7 1392.6,852.4 1388.0,854.2C1383.4,855.9 1378.8,857.6 1374.1,859.3C1369.5,860.9 1364.8,862.5 1360.1,864.1C1355.5,865.6 1350.8,867.1 1346.1,868.6C1341.4,870.0 1336.6,871.4 1331.9,872.7C1327.2,874.1 1322.4,875.4 1317.6,876.6C1312.8,877.8 1308.1,879.0 1303.3,880.1C1298.5,881.2 1293.6,882.3 1288.8,883.3C1284.0,884.3 1279.1,885.3 1274.3,886.2C1269.4,887.1 1264.6,888.0 1259.7,888.8C1254.8,889.7 1250.0,890.5 1245.1,891.3C1240.2,892.1 1235.3,892.8 1230.5,893.6C1225.6,894.4 1220.7,895.1 1215.8,895.9C1211.0,896.7 1206.1,897.4 1201.2,898.2C1196.4,899.0 1191.5,899.8 1186.7,900.6"/>
<path d="M1602.7,161.5L1643.2,200.1"/>
<path d="M1676.6,161.5L1677.5,196.0"/>
<path d="M1641.5,161.5C1637.8,164.8 1634.1,168.1 1630.4,171.4C1626.7,174.7 1623.1,178.1 1619.6,181.5C1616.0,185.0 1612.5,188.4 1609.0,191.9C1605.5,195.4 1602.1,198.9 1598.7,202.5C1595.3,206.1 1591.9,209.7 1588.6,213.3C1585.3,216.9 1582.0,220.6 1578.7,224.3C1575.5,228.0 1572.3,231.7 1569.1,235.4C1565.9,239.2 1562.7,242.9 1559.6,246.7C1556.5,250.5 1553.4,254.4 1550.3,258.2C1547.2,262.1 1544.2,265.9 1541.2,269.8C1538.1,273.7 1535.1,277.6 1532.2,281.5C1529.2,285.5 1526.2,289.4 1523.3,293.4C1520.3,297.3 1517.4,301.3 1514.5,305.3C1511.6,309.3 1508.7,313.3 1505.8,317.3C1502.9,321.3 1500.1,325.3 1497.2,329.3C1494.4,333.4 1491.5,337.4 1488.7,341.4C1485.8,345.5 1483.0,349.5 1480.2,353.6C1477.4,357.6 1474.5,361.7 1471.7,365.8C1468.9,369.8 1466.1,373.9 1463.3,377.9C1460.5,382.0 1457.7,386.1 1454.8,390.1C1452.0,394.2 1449.2,398.3 1446.4,402.3C1443.6,406.4 1440.8,410.4 1438.0,414.5C1435.1,418.6 1432.3,422.6 1429.5,426.7C1426.7,430.7 1423.9,434.8 1421.0,438.8C1418.2,442.8 1415.3,446.9 1412.5,450.9C1409.7,455.0 1406.8,459.0 1403.9,463.0C1401.1,467.0 1398.2,471.0 1395.3,475.0C1392.4,479.0 1389.5,483.0 1386.6,487.0C1383.7,491.0 1380.8,495.0 1377.9,499.0C1375.0,502.9 1372.0,506.9 1369.1,510.8C1366.1,514.8 1363.1,518.7 1360.1,522.6C1357.1,526.6 1354.1,530.5 1351.1,534.4C1348.1,538.3 1345.0,542.1 1342.0,546.0"/>
<path d="M1342.0,546.0C1337.4,547.5 1332.9,549.0 1328.3,550.5C1323.8,551.9 1319.2,553.4 1314.6,554.8C1310.1,556.3 1305.5,557.7 1300.9,559.1C1296.3,560.5 1291.7,561.9 1287.1,563.3C1282.5,564.7 1277.9,566.0 1273.3,567.4C1268.7,568.7 1264.1,570.1 1259.5,571.4C1254.9,572.8 1250.3,574.1 1245.7,575.4C1241.1,576.7 1236.5,578.0 1231.9,579.3C1227.2,580.7 1222.6,582.0 1218.0,583.3C1213.4,584.6 1208.8,585.8 1204.1,587.1C1199.5,588.4 1194.9,589.7 1190.3,591.0C1185.7,592.3 1181.0,593.6 1176.4,594.9C1171.8,596.2 1167.2,597.5 1162.6,598.7C1157.9,600.0 1153.3,601.3 1148.7,602.6C1144.1,603.8 1139.4,605.1 1134.8,606.4C1130.2,607.6 1125.6,608.9 1120.9,610.1C1116.3,611.4 1111.7,612.6 1107.0,613.8C1102.4,615.0 1097.7,616.2 1093.1,617.4C1088.5,618.6 1083.8,619.8 1079.2,620.9C1074.5,622.1 1069.8,623.2 1065.2,624.3C1060.5,625.5 1055.9,626.6 1051.2,627.6C1046.5,628.7 1041.9,629.8 1037.2,630.8C1032.5,631.8 1027.8,632.8 1023.1,633.8C1018.4,634.8 1013.7,635.8 1009.0,636.7C1004.3,637.7 999.6,638.6 994.9,639.5C990.2,640.4 985.5,641.3 980.8,642.2C976.1,643.1 971.4,644.0 966.7,644.9C961.9,645.7 957.2,646.6 952.5,647.4C947.8,648.3 943.1,649.2 938.3,650.0C933.6,650.9 928.9,651.7 924.2,652.6C919.5,653.4 914.7,654.3 910.0,655.1C905.3,656.0 900.6,656.8 895.9,657.7C891.1,658.6 886.4,659.5 881.7,660.4C877.0,661.3 872.3,662.2 867.6,663.1C862.9,664.0 858.2,665.0 853.5,665.9C848.8,666.9 844.1,667.8 839.4,668.8C834.7,669.8 830.0,670.8 825.3,671.9C820.6,672.9 815.9,673.9 811.3,674.9C806.6,676.0 801.9,677.0 797.2,678.0C792.5,679.1 787.9,680.1 783.2,681.2C778.5,682.2 773.8,683.2 769.1,684.3C764.4,685.3 759.7,686.3 755.1,687.3C750.4,688.3 745.7,689.3 741.0,690.3C736.3,691.2 731.6,692.2 726.9,693.1C722.2,694.0 717.5,695.0 712.7,695.8C708.0,696.7 703.3,697.5 698.6,698.4"/>
<path d="M1655.3,161.5C1652.7,165.9 1650.2,170.2 1647.6,174.6C1645.0,179.0 1642.2,183.4 1639.8,188.0C1637.4,192.5 1635.1,197.0 1633.4,201.8C1631.7,206.5 1630.4,211.3 1629.5,216.2C1628.6,221.1 1628.2,226.1 1627.9,231.1C1627.7,236.1 1627.7,241.2 1627.8,246.2C1627.8,251.3 1628.1,256.3 1628.3,261.4C1628.5,266.4 1628.8,271.5 1629.1,276.5C1629.5,281.6 1629.8,286.6 1630.2,291.7C1630.6,296.7 1631.1,301.8 1631.5,306.8C1631.9,311.9 1632.3,316.9 1632.8,322.0C1633.2,327.0 1633.6,332.1 1634.0,337.2C1634.4,342.2 1634.7,347.3 1635.1,352.3C1635.4,357.4 1635.7,362.4 1636.0,367.5C1636.3,372.5 1636.6,377.6 1636.9,382.6C1637.2,387.7 1637.4,392.7 1637.7,397.8C1637.9,402.8 1638.1,407.9 1638.3,412.9C1638.5,418.0 1638.7,423.1 1638.9,428.1C1639.1,433.2 1639.2,438.2 1639.4,443.3C1639.5,448.3 1639.7,453.4 1639.8,458.5C1639.9,463.5 1640.1,468.6 1640.2,473.6C1640.3,478.7 1640.4,483.8 1640.5,488.8C1640.5,493.9 1640.6,498.9 1640.7,504.0"/>
<path d="M1640.7,504.0L1640.7,679.0"/>
<path d="M1640.7,679.0C1640.7,683.7 1640.7,688.4 1640.7,693.1C1640.7,698.1 1640.8,703.1 1640.7,708.1C1640.5,713.2 1640.4,718.3 1639.9,723.3C1639.4,728.3 1638.8,733.3 1637.6,738.1C1636.5,742.8 1635.1,747.5 1633.1,751.8C1631.2,756.1 1628.7,760.2 1625.9,764.0C1623.2,767.9 1619.9,771.5 1616.6,774.9C1613.2,778.3 1609.5,781.5 1605.7,784.5C1601.9,787.6 1597.8,790.4 1593.8,793.2C1589.8,796.0 1585.6,798.6 1581.4,801.2C1577.2,803.7 1573.0,806.2 1568.7,808.5C1564.4,810.9 1560.1,813.1 1555.7,815.3C1551.3,817.5 1546.9,819.6 1542.5,821.6C1538.0,823.7 1533.5,825.6 1529.0,827.5C1524.6,829.5 1520.0,831.3 1515.5,833.1C1511.0,835.0 1506.4,836.7 1501.9,838.4C1497.3,840.2 1492.7,841.8 1488.1,843.4C1483.5,845.0 1478.9,846.6 1474.3,848.1C1469.6,849.6 1465.0,851.0 1460.3,852.3C1455.7,853.7 1451.0,855.0 1446.3,856.2C1441.5,857.5 1436.8,858.6 1432.1,859.8C1427.3,860.9 1422.6,862.0 1417.8,863.0C1413.1,864.0 1408.3,865.0 1403.5,865.9C1398.7,866.9 1393.9,867.8 1389.1,868.7C1384.3,869.6 1379.5,870.4 1374.7,871.3C1369.9,872.1 1365.0,873.0 1360.2,873.8C1355.4,874.6 1350.6,875.4 1345.7,876.2C1340.9,877.0 1336.1,877.8 1331.3,878.6C1326.5,879.5 1321.6,880.3 1316.8,881.1C1312.0,882.0 1307.2,882.8 1302.4,883.7C1297.6,884.6 1292.8,885.5 1288.0,886.4C1283.2,887.3 1278.4,888.2 1273.7,889.1C1268.9,890.0 1264.1,890.9 1259.3,891.8C1254.5,892.7 1249.7,893.6 1244.9,894.4C1240.1,895.2 1235.3,896.0 1230.5,896.7C1225.7,897.4 1220.8,898.1 1216.0,898.6C1211.2,899.2 1206.3,899.8 1201.4,900.2C1196.5,900.6 1191.6,900.9 1186.8,901.2"/>
<path d="M1642.8,233.6L1023.6,233.6"/>
<path d="M1681.6,257.3C1682.2,262.4 1682.8,267.5 1683.4,272.7C1683.9,277.8 1684.5,282.9 1685.0,288.0C1685.5,293.2 1686.0,298.3 1686.4,303.4C1686.8,308.5 1687.3,313.7 1687.6,318.8C1688.0,323.9 1688.4,329.1 1688.7,334.2C1689.0,339.3 1689.4,344.5 1689.6,349.6C1689.9,354.8 1690.2,359.9 1690.4,365.0C1690.6,370.2 1690.9,375.3 1691.0,380.5C1691.2,385.6 1691.4,390.7 1691.5,395.9C1691.7,401.0 1691.8,406.2 1691.9,411.3C1692.0,416.5 1692.1,421.6 1692.2,426.8C1692.3,431.9 1692.3,437.1 1692.4,442.2C1692.4,447.4 1692.4,452.5 1692.4,457.7C1692.4,462.8 1692.4,468.0 1692.4,473.1C1692.4,478.3 1692.3,483.4 1692.3,488.6C1692.2,493.7 1692.2,498.9 1692.1,504.0"/>
<path d="M1692.1,504.0L1692.1,664.0"/>
<path d="M1692.1,664.0C1692.0,668.8 1691.7,673.6 1691.7,678.4C1691.6,683.1 1691.7,687.9 1691.8,692.6C1691.9,697.3 1692.1,701.9 1692.3,706.6C1692.5,711.3 1692.7,716.0 1692.9,720.8C1693.0,725.6 1693.2,730.4 1693.3,735.2C1693.4,740.1 1693.5,745.0 1693.4,749.9C1693.2,754.9 1693.1,759.8 1692.6,764.7C1692.2,769.6 1691.7,774.4 1690.8,779.2C1689.9,783.9 1688.9,788.5 1687.4,793.0C1686.0,797.4 1684.3,801.8 1682.1,805.9C1680.0,809.9 1677.4,813.8 1674.6,817.3C1671.7,820.9 1668.3,824.3 1664.8,827.3C1661.3,830.3 1657.4,833.1 1653.3,835.5C1649.3,837.9 1644.9,840.0 1640.6,841.9C1636.1,843.8 1631.5,845.2 1626.9,846.7C1622.3,848.1 1617.6,849.2 1612.9,850.4C1608.2,851.5 1603.5,852.6 1598.8,853.6C1594.1,854.6 1589.4,855.5 1584.7,856.3C1580.0,857.2 1575.3,858.0 1570.6,858.8C1565.9,859.6 1561.2,860.3 1556.4,861.0C1551.7,861.7 1547.0,862.4 1542.3,863.0C1537.6,863.7 1532.9,864.3 1528.1,864.9C1523.4,865.6 1518.7,866.2 1514.0,866.8C1509.3,867.4 1504.5,868.1 1499.8,868.7C1495.1,869.3 1490.4,869.9 1485.6,870.6C1480.9,871.2 1476.2,871.8 1471.5,872.4C1466.7,873.0 1462.0,873.6 1457.3,874.2C1452.5,874.9 1447.8,875.5 1443.1,876.1C1438.3,876.7 1433.6,877.3 1428.9,877.9C1424.1,878.4 1419.4,879.0 1414.7,879.6C1409.9,880.2 1405.2,880.8 1400.5,881.4C1395.7,881.9 1391.0,882.5 1386.3,883.1C1381.5,883.6 1376.8,884.2 1372.0,884.7C1367.3,885.3 1362.5,885.8 1357.8,886.4C1353.1,886.9 1348.3,887.4 1343.6,888.0C1338.8,888.5 1334.1,889.0 1329.3,889.5C1324.6,890.0 1319.9,890.5 1315.1,891.0C1310.4,891.5 1305.6,892.0 1300.9,892.5C1296.1,893.0 1291.4,893.4 1286.6,893.9C1281.9,894.3 1277.1,894.8 1272.4,895.2C1267.6,895.7 1262.9,896.1 1258.1,896.5C1253.4,897.0 1248.6,897.4 1243.9,897.8C1239.1,898.2 1234.4,898.6 1229.6,898.9C1224.8,899.3 1220.1,899.7 1215.3,900.1C1210.6,900.4 1205.8,900.8 1201.1,901.1C1196.3,901.4 1191.6,901.7 1186.8,902.1"/>
<path d="M1186.0,893.0L1186.3,892.9"/>
<path d="M1180.0,894.8C1184.7,893.4 1189.4,892.0 1194.1,890.6C1198.9,889.2 1203.6,887.8 1208.3,886.4C1213.0,885.0 1217.7,883.6 1222.5,882.1C1227.2,880.7 1231.9,879.3 1236.6,877.9C1241.3,876.5 1246.1,875.1 1250.8,873.7C1255.5,872.2 1260.2,870.8 1264.9,869.4C1269.6,867.9 1274.3,866.5 1279.0,865.0C1283.7,863.5 1288.4,862.0 1293.1,860.5C1297.8,859.1 1302.5,857.5 1307.2,856.0C1311.9,854.5 1316.6,852.9 1321.2,851.4C1325.9,849.8 1330.5,848.2 1335.2,846.6C1339.8,845.0 1344.5,843.4 1349.1,841.7C1353.7,840.0 1358.4,838.4 1363.0,836.6C1367.6,834.9 1372.2,833.2 1376.8,831.4C1381.3,829.7 1385.9,827.9 1390.5,826.0C1395.0,824.2 1399.6,822.3 1404.1,820.4C1408.6,818.5 1413.2,816.6 1417.7,814.6C1422.1,812.6 1426.6,810.6 1431.1,808.5C1435.6,806.4 1440.0,804.3 1444.4,802.1C1448.8,799.9 1453.2,797.6 1457.6,795.3C1462.0,792.9 1466.3,790.5 1470.6,788.0C1474.9,785.5 1479.2,783.0 1483.4,780.3C1487.6,777.6 1491.8,774.9 1495.8,771.9C1499.7,769.0 1503.6,765.9 1507.3,762.7C1510.9,759.4 1514.4,756.0 1517.6,752.3C1520.7,748.7 1523.7,744.8 1526.3,740.7C1528.9,736.7 1531.2,732.4 1533.2,728.0C1535.2,723.6 1536.9,719.0 1538.2,714.3C1539.5,709.6 1540.5,704.7 1541.1,699.9C1541.7,695.0 1542.0,690.0 1541.9,685.0C1541.8,680.0 1541.0,675.0 1540.6,670.0"/>
<path d="M1540.6,670.0L1540.7,571.0"/>
<path d="M1540.7,571.0C1541.0,566.2 1541.3,561.4 1541.5,556.6C1541.6,551.8 1541.7,546.9 1541.7,542.1C1541.8,537.2 1541.7,532.4 1541.5,527.5C1541.3,522.7 1541.0,517.8 1540.6,513.0C1540.2,508.1 1539.6,503.3 1538.9,498.5C1538.2,493.7 1537.4,489.0 1536.3,484.3C1535.3,479.6 1534.1,474.9 1532.8,470.3C1531.5,465.7 1529.9,461.1 1528.3,456.6C1526.6,452.2 1524.8,447.7 1522.8,443.4C1520.9,439.0 1518.7,434.7 1516.4,430.6C1514.2,426.4 1511.7,422.2 1509.1,418.2C1506.6,414.2 1503.8,410.3 1501.0,406.5C1498.1,402.6 1495.1,398.9 1491.9,395.3C1488.8,391.6 1485.5,388.1 1482.1,384.6C1478.8,381.2 1475.3,377.8 1471.7,374.5C1468.2,371.2 1464.5,368.0 1460.8,364.9C1457.1,361.8 1453.3,358.7 1449.4,355.8C1445.6,352.8 1441.7,349.9 1437.7,347.0C1433.8,344.2 1429.8,341.4 1425.8,338.7C1421.8,336.0 1417.7,333.4 1413.6,330.9C1409.5,328.3 1405.3,325.8 1401.2,323.4C1397.0,321.0 1392.8,318.7 1388.5,316.5C1384.2,314.3 1379.9,312.1 1375.6,310.0C1371.3,308.0 1366.9,306.0 1362.5,304.1C1358.1,302.2 1353.7,300.3 1349.2,298.6C1344.7,296.8 1340.2,295.1 1335.7,293.5C1331.2,291.9 1326.7,290.4 1322.1,288.9C1317.5,287.4 1312.9,286.0 1308.3,284.6C1303.7,283.2 1299.0,281.9 1294.4,280.6C1289.7,279.3 1285.1,278.1 1280.4,276.9C1275.7,275.7 1271.0,274.6 1266.3,273.4C1261.6,272.3 1256.9,271.2 1252.2,270.1C1247.5,269.1 1242.8,268.0 1238.1,267.0C1233.4,266.0 1228.7,265.0 1223.9,264.0C1219.2,263.0 1214.5,262.1 1209.7,261.2C1205.0,260.3 1200.3,259.4 1195.5,258.5C1190.8,257.7 1186.0,256.8 1181.3,256.0C1176.5,255.2 1171.8,254.4 1167.0,253.6C1162.2,252.9 1157.5,252.1 1152.7,251.4C1148.0,250.7 1143.2,250.0 1138.4,249.3C1133.6,248.6 1128.9,247.9 1124.1,247.3C1119.3,246.6 1114.5,246.0 1109.8,245.4C1105.0,244.8 1100.2,244.2 1095.4,243.6C1090.6,243.0 1085.9,242.4 1081.1,241.8C1076.3,241.2 1071.5,240.7 1066.7,240.1C1061.9,239.6 1057.1,239.0 1052.3,238.5C1047.5,238.0 1042.7,237.4 1037.9,236.9C1033.2,236.4 1028.4,235.9 1023.6,235.3"/>
<path d="M1636.8,157.4C1632.3,159.1 1627.9,161.0 1623.4,162.6C1618.9,164.2 1614.4,165.7 1609.8,167.1C1605.3,168.4 1600.7,169.7 1596.1,170.8C1591.4,172.0 1586.8,173.0 1582.1,174.0C1577.4,175.0 1572.8,175.8 1568.0,176.6C1563.3,177.4 1558.6,178.2 1553.9,178.9C1549.1,179.5 1544.4,180.2 1539.6,180.8C1534.9,181.4 1530.1,181.9 1525.3,182.5C1520.5,183.0 1515.8,183.5 1511.0,184.0C1506.2,184.5 1501.4,185.0 1496.6,185.5C1491.9,186.0 1487.1,186.5 1482.3,187.0C1477.5,187.5 1472.8,188.0 1468.0,188.4C1463.2,188.9 1458.4,189.3 1453.7,189.7C1448.9,190.1 1444.1,190.5 1439.4,190.9C1434.6,191.3 1429.8,191.6 1425.0,191.9C1420.3,192.2 1415.5,192.4 1410.7,192.6C1405.9,192.9 1401.2,193.0 1396.4,193.1C1391.6,193.3 1386.8,193.3 1382.0,193.3C1377.3,193.4 1372.5,193.3 1367.7,193.3C1362.9,193.2 1358.1,193.1 1353.4,192.9C1348.6,192.8 1343.8,192.6 1339.0,192.4C1334.2,192.2 1329.4,192.0 1324.7,191.7C1319.9,191.5 1315.1,191.2 1310.3,190.9C1305.5,190.7 1300.7,190.4 1295.9,190.1C1291.2,189.8 1286.4,189.5 1281.6,189.2C1276.8,188.9 1272.0,188.6 1267.2,188.3C1262.4,188.0 1257.7,187.8 1252.9,187.5C1248.1,187.2 1243.3,187.0 1238.5,186.7C1233.7,186.5 1228.9,186.3 1224.2,186.1C1219.4,185.8 1214.6,185.6 1209.8,185.5C1205.0,185.3 1200.2,185.1 1195.4,185.0C1190.7,184.8 1185.9,184.7 1181.1,184.6C1176.3,184.5 1171.5,184.4 1166.7,184.4C1161.9,184.3 1157.1,184.3 1152.3,184.3C1147.5,184.3 1142.8,184.4 1138.0,184.4C1133.2,184.5 1128.4,184.6 1123.6,184.7C1118.8,184.8 1114.0,185.0 1109.2,185.2C1104.4,185.4 1099.6,185.6 1094.8,185.9C1090.0,186.1 1085.3,186.4 1080.5,186.7C1075.7,187.0 1070.9,187.4 1066.1,187.8C1061.4,188.2 1056.6,188.6 1051.8,189.1C1047.0,189.5 1042.3,190.0 1037.5,190.6C1032.8,191.1 1028.0,191.7 1023.2,192.3C1018.5,192.9 1013.8,193.5 1009.0,194.2C1004.3,194.9 999.6,195.6 994.8,196.4C990.1,197.2 985.4,198.0 980.7,198.8C976.0,199.7 971.3,200.5 966.6,201.5C961.9,202.4 957.2,203.4 952.5,204.4C947.9,205.4 943.2,206.4 938.6,207.5C933.9,208.6 929.3,209.8 924.6,211.0C920.0,212.1 915.4,213.4 910.8,214.7C906.2,215.9 901.6,217.2 897.0,218.6C892.4,220.0 887.8,221.4 883.3,222.8C878.7,224.2 874.1,225.7 869.6,227.2C865.0,228.7 860.5,230.3 856.0,231.8C851.4,233.4 846.9,235.0 842.4,236.6C837.9,238.2 833.4,239.8 828.9,241.4C824.4,243.1 819.9,244.8 815.4,246.4C810.9,248.1 806.4,249.8 801.9,251.5C797.4,253.2 792.9,254.9 788.4,256.6C783.9,258.3 779.4,260.0 774.9,261.7C770.4,263.5 765.9,265.2 761.5,266.9C757.0,268.6 752.5,270.3 748.0,272.0C743.5,273.7 739.0,275.3 734.5,277.0C730.0,278.7 725.5,280.3 721.0,282.0C716.5,283.6 712.0,285.2 707.5,286.8C703.0,288.4 698.4,289.9 693.9,291.5C689.4,293.0 684.9,294.5 680.3,296.0C675.8,297.5 671.2,298.9 666.7,300.3"/>
<path d="M1444.8,159.2C1440.3,161.1 1435.9,163.2 1431.4,165.0C1426.9,166.7 1422.4,168.3 1417.8,169.8C1413.3,171.3 1408.7,172.6 1404.1,173.8C1399.6,175.1 1395.0,176.1 1390.4,177.1C1385.8,178.1 1381.1,178.9 1376.5,179.7C1371.9,180.4 1367.2,181.0 1362.5,181.6C1357.9,182.1 1353.2,182.6 1348.5,182.9C1343.8,183.3 1339.1,183.5 1334.4,183.7C1329.7,183.9 1325.0,184.0 1320.2,184.1C1315.5,184.1 1310.8,184.1 1306.0,184.0C1301.3,184.0 1296.5,183.8 1291.8,183.7C1287.0,183.5 1282.3,183.3 1277.5,183.0C1272.7,182.7 1268.0,182.4 1263.2,182.1C1258.4,181.8 1253.6,181.5 1248.9,181.1C1244.1,180.8 1239.3,180.4 1234.6,180.0C1229.8,179.7 1225.0,179.3 1220.2,178.9C1215.5,178.5 1210.7,178.2 1205.9,177.8C1201.2,177.5 1196.4,177.1 1191.7,176.8C1186.9,176.5 1182.2,176.2 1177.4,175.9C1172.6,175.7 1167.9,175.4 1163.1,175.2C1158.4,175.0 1153.7,174.8 1148.9,174.7C1144.2,174.5 1139.4,174.4 1134.7,174.4C1130.0,174.3 1125.2,174.3 1120.5,174.3C1115.8,174.4 1111.0,174.5 1106.3,174.6C1101.6,174.8 1096.9,175.0 1092.2,175.3C1087.4,175.5 1082.7,175.9 1078.0,176.3C1073.3,176.7 1068.6,177.2 1063.9,177.7C1059.2,178.2 1054.5,178.9 1049.8,179.5C1045.1,180.2 1040.4,180.9 1035.7,181.7C1031.0,182.5 1026.3,183.3 1021.7,184.3C1017.0,185.2 1012.3,186.1 1007.7,187.1C1003.0,188.2 998.4,189.2 993.8,190.3C989.1,191.5 984.5,192.6 979.9,193.9C975.3,195.1 970.7,196.4 966.2,197.7C961.6,199.0 957.0,200.3 952.5,201.7C947.9,203.1 943.4,204.6 938.9,206.1C934.4,207.6 929.9,209.1 925.4,210.7C920.9,212.2 916.4,213.9 912.0,215.5C907.5,217.2 903.1,218.9 898.7,220.6C894.2,222.3 889.8,224.1 885.4,225.9C881.0,227.7 876.6,229.6 872.3,231.5C867.9,233.4 863.6,235.3 859.2,237.3C854.9,239.2 850.6,241.2 846.3,243.2C842.0,245.3 837.7,247.3 833.4,249.4C829.1,251.5 824.9,253.7 820.7,255.9C816.4,258.1 812.2,260.3 808.1,262.6C803.9,264.8 799.7,267.2 795.6,269.5C791.5,271.9 787.4,274.3 783.4,276.8C779.3,279.3 775.3,281.8 771.3,284.4C767.4,286.9 763.4,289.6 759.5,292.3C755.6,294.9 751.8,297.7 748.0,300.5C744.2,303.3 740.4,306.2 736.7,309.1C733.0,312.0 729.3,315.0 725.7,318.1C722.0,321.1 718.4,324.2 714.9,327.4C711.3,330.5 707.8,333.7 704.4,336.9C700.9,340.2 697.4,343.5 694.0,346.8C690.6,350.1 687.2,353.4 683.9,356.8C680.5,360.2 677.2,363.6 673.8,367.0C670.5,370.4 667.2,373.9 663.9,377.3C660.6,380.8 657.4,384.3 654.1,387.7C650.8,391.2 647.6,394.7 644.3,398.2C641.1,401.7 637.9,405.2 634.6,408.7C631.4,412.2 628.2,415.7 625.0,419.2C621.8,422.7 618.6,426.2 615.4,429.8C612.3,433.3 609.1,436.9 606.1,440.5C603.0,444.1 600.0,447.7 597.0,451.4C594.0,455.1 591.1,458.8 588.3,462.6C585.4,466.3 582.6,470.1 580.0,474.0C577.3,477.9 574.8,481.9 572.1,485.8"/>
<path d="M1541.2,156.6C1536.7,158.2 1532.3,160.0 1527.8,161.5C1523.3,163.0 1518.7,164.4 1514.2,165.8C1509.6,167.1 1505.0,168.4 1500.4,169.5C1495.8,170.7 1491.2,171.8 1486.5,172.8C1481.9,173.8 1477.2,174.7 1472.6,175.6C1467.9,176.5 1463.2,177.3 1458.5,178.0C1453.8,178.8 1449.1,179.5 1444.4,180.1C1439.6,180.7 1434.9,181.3 1430.2,181.9C1425.4,182.4 1420.7,182.9 1416.0,183.4C1411.2,183.9 1406.5,184.3 1401.7,184.7C1397.0,185.1 1392.2,185.4 1387.5,185.7C1382.7,186.1 1378.0,186.3 1373.2,186.6C1368.5,186.8 1363.7,187.0 1359.0,187.2C1354.2,187.3 1349.4,187.4 1344.7,187.5C1339.9,187.6 1335.2,187.6 1330.4,187.6C1325.7,187.6 1320.9,187.6 1316.1,187.5C1311.4,187.4 1306.6,187.2 1301.9,187.0C1297.1,186.9 1292.4,186.6 1287.6,186.4C1282.9,186.1 1278.1,185.8 1273.4,185.5C1268.6,185.2 1263.9,184.8 1259.1,184.4C1254.4,184.1 1249.6,183.7 1244.9,183.2C1240.1,182.8 1235.4,182.4 1230.6,181.9C1225.9,181.5 1221.1,181.0 1216.4,180.6C1211.6,180.1 1206.9,179.6 1202.2,179.1C1197.4,178.7 1192.7,178.2 1187.9,177.7C1183.2,177.3 1178.4,176.8 1173.7,176.4C1168.9,175.9 1164.2,175.5 1159.4,175.1C1154.7,174.7 1150.0,174.3 1145.2,174.0C1140.5,173.6 1135.7,173.3 1131.0,173.1C1126.2,172.8 1121.5,172.6 1116.7,172.5C1112.0,172.4 1107.3,172.3 1102.5,172.3C1097.8,172.3 1093.0,172.3 1088.3,172.5C1083.6,172.7 1078.8,172.9 1074.1,173.2C1069.4,173.6 1064.6,174.0 1059.9,174.5C1055.2,175.0 1050.5,175.6 1045.8,176.3C1041.1,177.0 1036.4,177.7 1031.7,178.6C1027.0,179.4 1022.3,180.4 1017.7,181.4C1013.0,182.4 1008.4,183.5 1003.7,184.7C999.1,185.8 994.5,187.1 989.9,188.4C985.4,189.8 980.8,191.2 976.3,192.7C971.7,194.2 967.2,195.7 962.7,197.4C958.2,199.0 953.8,200.7 949.3,202.5C944.9,204.3 940.5,206.2 936.2,208.2C931.8,210.1 927.5,212.1 923.2,214.2C918.9,216.3 914.6,218.5 910.4,220.7C906.2,222.9 902.0,225.2 897.9,227.6C893.7,230.0 889.6,232.4 885.6,234.9C881.5,237.4 877.5,240.0 873.6,242.6C869.6,245.2 865.7,247.9 861.9,250.7C858.0,253.5 854.2,256.3 850.5,259.2C846.7,262.1 843.0,265.1 839.4,268.1C835.8,271.2 832.2,274.3 828.7,277.5C825.2,280.6 821.7,283.9 818.3,287.2C814.9,290.5 811.6,293.9 808.4,297.4C805.1,300.8 801.9,304.3 798.8,307.9C795.7,311.5 792.7,315.2 789.7,318.9C786.7,322.6 783.8,326.4 781.0,330.2C778.1,334.1 775.3,338.0 772.6,341.9C769.9,345.8 767.2,349.8 764.6,353.8C761.9,357.7 759.3,361.8 756.8,365.8C754.2,369.8 751.7,373.9 749.2,377.9C746.7,382.0 744.2,386.0 741.7,390.1"/>
<path d="M938.5,242.8C925.7,246.1 912.8,249.5 900.0,252.8C822.9,272.4 745.8,291.9 668.7,311.5"/>
<path d="M945.6,257.8C941.7,261.0 937.9,264.2 934.0,267.4C930.2,270.6 926.3,273.8 922.4,276.9C918.5,280.1 914.5,283.2 910.6,286.3C906.7,289.4 902.7,292.5 898.8,295.6C894.8,298.7 890.8,301.7 886.8,304.8C882.9,307.8 878.9,310.9 874.9,313.9C870.9,316.9 866.9,319.9 862.8,322.9C858.8,325.9 854.8,328.9 850.7,331.9C846.7,334.9 842.7,337.8 838.6,340.8C834.6,343.8 830.5,346.7 826.4,349.6C822.4,352.6 818.3,355.5 814.3,358.5C810.2,361.4 806.1,364.3 802.0,367.3C798.0,370.2 793.9,373.1 789.8,376.0C785.7,378.9 781.6,381.9 777.6,384.8C773.5,387.7 769.4,390.6 765.3,393.5"/>
<path d="M968.8,257.8C967.6,262.7 966.4,267.6 965.2,272.5C964.0,277.4 962.8,282.3 961.6,287.1C960.3,292.0 959.1,296.9 957.8,301.7C956.5,306.6 955.2,311.5 953.8,316.3C952.5,321.2 951.1,326.0 949.7,330.8C948.3,335.7 946.9,340.5 945.4,345.3C943.9,350.1 942.5,354.9 940.9,359.7C939.4,364.5 937.8,369.2 936.2,374.0C934.6,378.8 932.9,383.5 931.3,388.2C929.6,393.0 927.8,397.7 926.0,402.4C924.3,407.1 922.4,411.7 920.6,416.4C918.7,421.1 916.8,425.7 914.8,430.3C912.8,434.9 910.8,439.5 908.7,444.1C906.7,448.7 904.5,453.3 902.3,457.8C900.2,462.3 897.9,466.9 895.7,471.4C893.4,475.9 891.1,480.4 888.8,484.8C886.4,489.3 884.1,493.7 881.7,498.2C879.3,502.6 876.8,507.0 874.4,511.4C872.0,515.8 869.5,520.2 867.0,524.6C864.5,529.0 862.1,533.3 859.5,537.6C856.9,541.9 854.4,546.2 851.6,550.4C848.8,554.5 846.0,558.7 842.9,562.6C839.9,566.5 836.7,570.4 833.2,574.0C829.7,577.7 825.8,580.9 822.0,584.4"/>
<path d="M984.6,257.8C986.5,262.7 988.5,267.5 990.4,272.4C992.3,277.2 994.1,282.1 996.0,287.0C997.9,291.9 999.7,296.8 1001.5,301.7C1003.4,306.6 1005.2,311.4 1007.0,316.3C1008.9,321.2 1010.7,326.1 1012.6,331.0C1014.4,335.9 1016.3,340.8 1018.2,345.6C1020.1,350.5 1022.0,355.3 1024.0,360.2C1026.0,365.0 1028.0,369.9 1030.0,374.7C1032.1,379.5 1034.2,384.2 1036.3,389.0"/>
<path d="M1001.5,257.8C1005.1,261.0 1008.7,264.2 1012.3,267.5C1015.8,270.7 1019.3,274.0 1022.8,277.4C1026.2,280.8 1029.6,284.2 1032.9,287.6C1036.2,291.1 1039.5,294.6 1042.7,298.1C1045.9,301.7 1049.1,305.3 1052.2,308.9C1055.3,312.6 1058.3,316.3 1061.3,320.0C1064.3,323.8 1067.2,327.6 1070.1,331.4C1073.0,335.3 1075.8,339.2 1078.5,343.1C1081.3,347.0 1084.0,351.0 1086.6,355.1C1089.3,359.1 1091.8,363.2 1094.3,367.3C1096.9,371.5 1099.3,375.7 1101.7,379.9C1104.0,384.1 1106.3,388.4 1108.5,392.7C1110.7,397.0 1112.8,401.4 1114.8,405.8C1116.7,410.2 1118.6,414.6 1120.4,419.1C1122.1,423.6 1123.8,428.1 1125.3,432.6C1126.8,437.2 1128.2,441.7 1129.4,446.4C1130.6,451.0 1131.7,455.6 1132.6,460.3C1133.6,465.0 1134.3,469.7 1135.0,474.4C1135.6,479.1 1136.0,483.9 1136.3,488.6C1136.7,493.4 1136.8,498.2 1136.8,502.9C1136.9,507.7 1136.7,512.5 1136.4,517.3C1136.2,522.1 1135.7,526.9 1135.2,531.7C1134.6,536.5 1133.9,541.3 1133.0,546.0C1132.2,550.8 1131.2,555.6 1130.0,560.3C1128.9,565.0 1127.6,569.8 1126.2,574.4C1124.8,579.1 1123.2,583.7 1121.5,588.3C1119.8,592.8 1117.9,597.3 1115.9,601.7C1113.9,606.1 1111.8,610.4 1109.4,614.7C1107.1,618.9 1104.7,623.0 1102.1,627.0C1099.5,631.0 1096.7,634.9 1093.8,638.7C1090.9,642.4 1087.8,646.0 1084.5,649.5C1081.3,652.9 1077.9,656.2 1074.4,659.4C1070.9,662.5 1067.2,665.5 1063.4,668.4C1059.7,671.3 1055.8,674.1 1051.8,676.8C1047.8,679.5 1043.8,682.1 1039.7,684.6C1035.6,687.1 1031.4,689.5 1027.2,691.9C1022.9,694.3 1018.7,696.6 1014.4,698.9C1010.1,701.2 1005.9,703.4 1001.6,705.7C997.3,707.9 993.0,710.2 988.7,712.4C984.4,714.6 980.1,716.7 975.8,718.9C971.5,721.0 967.2,723.2 962.9,725.3C958.6,727.4 954.3,729.4 949.9,731.5C945.6,733.5 941.3,735.5 936.9,737.5C932.5,739.5 928.2,741.4 923.8,743.3C919.4,745.2 914.9,747.1 910.5,748.9C906.1,750.8 901.6,752.6 897.2,754.3C892.7,756.1 888.2,757.8 883.7,759.5C879.2,761.2 874.7,762.9 870.2,764.5C865.6,766.1 861.1,767.6 856.5,769.1C852.0,770.7 847.4,772.1 842.8,773.6C838.2,775.0 833.6,776.4 829.0,777.7C824.3,779.1 819.7,780.4 815.1,781.6C810.4,782.9 805.8,784.1 801.1,785.2C796.4,786.4 791.7,787.5 787.0,788.5C782.4,789.6 777.6,790.6 772.9,791.5C768.2,792.5 763.5,793.4 758.8,794.2C754.0,795.0 749.3,795.8 744.5,796.6C739.8,797.3 735.0,798.0 730.3,798.6C725.5,799.2 720.7,799.7 715.9,800.3"/>
<path d="M549.3,334.3C544.6,335.0 539.9,335.7 535.2,336.3C530.4,337.0 525.7,337.6 521.0,338.2C516.2,338.9 511.5,339.5 506.7,340.1C502.0,340.7 497.2,341.3 492.4,341.9C487.7,342.5 482.9,343.1 478.1,343.8C473.4,344.4 468.6,345.0 463.8,345.7C459.1,346.3 454.3,347.0 449.6,347.7C444.8,348.4 440.1,349.1 435.4,349.9C430.6,350.6 425.9,351.4 421.2,352.3C416.5,353.1 411.9,354.0 407.2,354.9C402.5,355.8 397.9,356.8 393.2,357.8C388.6,358.8 384.0,359.8 379.3,360.9C374.7,362.0 370.1,363.1 365.5,364.3C360.8,365.5 356.2,366.7 351.6,368.0C346.9,369.2 342.2,370.5 337.6,371.9C332.9,373.2 328.2,374.6 323.6,376.1C319.0,377.6 314.3,379.1 309.8,380.9C305.4,382.7 300.9,384.5 296.7,386.7C292.5,388.8 288.4,391.1 284.5,393.8C280.7,396.4 277.0,399.3 273.6,402.5C270.1,405.6 266.9,409.0 263.8,412.6C260.7,416.1 257.8,419.9 254.9,423.8C252.0,427.6 249.3,431.7 246.6,435.7C243.8,439.8 241.1,443.9 238.6,448.1C236.0,452.2 233.5,456.4 231.2,460.8C228.9,465.0 226.7,469.3 224.8,473.8C223.0,478.1 221.3,482.6 219.9,487.2C218.5,491.6 217.5,496.2 216.7,500.9C215.9,505.5 215.4,510.2 215.1,514.8C214.8,519.5 214.8,524.3 215.0,529.0C215.1,533.7 215.4,538.5 215.9,543.3C216.4,548.1 217.0,552.8 217.8,557.6C218.5,562.4 219.4,567.1 220.3,571.9C221.3,576.7 222.3,581.4 223.3,586.1C224.4,590.8 225.5,595.5 226.7,600.2C227.8,604.9 229.1,609.5 230.4,614.1C231.7,618.7 233.1,623.3 234.5,627.8C236.0,632.4 237.5,636.9 239.2,641.3C240.8,645.8 242.5,650.2 244.3,654.6C246.2,659.0 248.1,663.3 250.1,667.6C252.1,671.9 254.3,676.2 256.5,680.3C258.8,684.5 261.0,688.8 263.6,692.7C266.3,696.7 269.0,700.5 272.2,704.0C275.4,707.4 279.1,710.4 282.8,713.4C286.5,716.4 290.5,719.1 294.4,721.8C298.5,724.5 302.6,727.0 306.8,729.4C311.0,731.8 315.2,734.0 319.5,736.1C323.8,738.3 328.2,740.2 332.6,742.1C337.0,744.0 341.5,745.7 345.9,747.4C350.4,749.1 354.9,750.7 359.4,752.3C363.9,753.8 368.4,755.4 373.0,756.8C377.5,758.3 382.1,759.7 386.6,761.0C391.2,762.4 395.8,763.7 400.4,765.0C405.0,766.3 409.6,767.5 414.3,768.7C418.9,769.9 423.5,771.0 428.2,772.2C432.8,773.3 437.5,774.4 442.2,775.4C446.8,776.5 451.5,777.5 456.2,778.5C460.9,779.5 465.6,780.4 470.3,781.4C475.0,782.3 479.7,783.2 484.4,784.1C489.1,785.0 493.8,785.8 498.6,786.7C503.3,787.5 508.0,788.4 512.7,789.2C517.4,790.0 522.2,790.8 526.9,791.6C531.6,792.4 536.4,793.1 541.1,793.9C545.8,794.7 550.5,795.4 555.3,796.2C560.0,796.9 564.7,797.7 569.4,798.4C574.1,799.2 578.8,799.9 583.5,800.7"/>
<path d="M549.3,334.8C544.5,335.6 539.8,336.4 535.0,337.3C530.2,338.1 525.4,338.9 520.6,339.8C515.8,340.6 511.0,341.5 506.1,342.4C501.3,343.3 496.5,344.2 491.6,345.1C486.8,346.1 481.9,347.0 477.1,348.0C472.3,349.1 467.5,350.1 462.6,351.2C457.8,352.3 453.0,353.4 448.2,354.6C443.4,355.8 438.7,357.1 433.9,358.4C429.2,359.7 424.4,361.1 419.7,362.6C415.0,364.0 410.3,365.5 405.7,367.1C401.1,368.7 396.5,370.4 391.9,372.2C387.3,373.9 382.8,375.8 378.3,377.7C373.8,379.7 369.4,381.7 365.0,383.9C360.6,386.0 356.3,388.3 352.0,390.6C347.7,393.0 343.5,395.5 339.4,398.0C335.2,400.6 331.1,403.3 327.1,406.2C323.1,409.0 319.1,412.0 315.3,415.1C311.4,418.2 307.6,421.4 304.0,424.7C300.4,428.1 296.9,431.5 293.5,435.1C290.2,438.7 287.0,442.5 284.0,446.3C281.1,450.2 278.3,454.2 275.8,458.3C273.2,462.4 270.9,466.6 268.9,471.0C266.9,475.4 265.1,479.9 263.6,484.5C262.2,489.1 261.0,493.9 260.1,498.7C259.2,503.5 258.5,508.4 258.0,513.3C257.5,518.3 257.3,523.3 257.2,528.2C257.0,533.2 257.1,538.2 257.3,543.2C257.4,548.1 257.8,553.0 258.0,557.9"/>
<path d="M258.0,557.9L258.0,592.1"/>
<path d="M258.0,592.1C257.7,597.1 257.0,602.1 257.1,607.0C257.2,611.9 257.6,616.8 258.7,621.6C259.7,626.2 261.2,630.8 263.2,635.0C265.2,639.3 267.9,643.3 270.6,647.1C273.5,651.0 276.8,654.6 280.1,658.0C283.5,661.5 287.2,664.7 290.9,667.9C294.5,671.0 298.4,673.9 302.3,676.8C306.2,679.6 310.2,682.4 314.2,685.0C318.3,687.6 322.4,690.1 326.6,692.5C330.8,694.9 335.1,697.2 339.4,699.4C343.7,701.7 348.1,703.9 352.4,706.0C356.8,708.1 361.2,710.2 365.6,712.3C370.0,714.3 374.5,716.3 378.9,718.3C383.3,720.3 387.8,722.3 392.2,724.3C396.7,726.2 401.1,728.2 405.6,730.1C410.0,732.0 414.5,733.9 418.9,735.8C423.4,737.7 427.9,739.5 432.4,741.3C436.9,743.2 441.3,745.0 445.8,746.7C450.3,748.5 454.8,750.3 459.4,752.0C463.9,753.7 468.4,755.4 472.9,757.1C477.5,758.8 482.0,760.4 486.6,762.0C491.1,763.7 495.7,765.3 500.3,766.8C504.8,768.4 509.4,769.9 514.0,771.4C518.6,772.9 523.2,774.4 527.8,775.8C532.4,777.3 537.1,778.7 541.7,780.1C546.4,781.5 551.0,782.8 555.7,784.1C560.4,785.5 565.0,786.7 569.7,788.0C574.4,789.3 579.1,790.4 583.8,791.7"/>
<path d="M574.5,353.5C570.6,356.5 566.5,359.3 562.7,362.4C558.9,365.5 555.2,368.7 551.6,372.1C548.1,375.5 544.6,379.0 541.4,382.6C538.1,386.3 534.9,390.0 531.9,393.9C528.9,397.8 526.1,401.8 523.4,405.9C520.7,410.0 518.1,414.2 515.7,418.4C513.3,422.7 511.0,427.1 508.9,431.5C506.8,436.0 504.9,440.5 503.1,445.1C501.3,449.7 499.7,454.4 498.4,459.1C497.0,463.8 495.9,468.6 495.0,473.4C494.2,478.2 493.6,483.1 493.3,487.9C492.9,492.7 493.0,497.6 493.1,502.5C493.3,507.4 493.8,512.3 494.3,517.2C494.8,522.1 495.5,527.1 496.2,532.0C496.9,537.0 497.6,542.0 498.5,546.9C499.5,551.7 500.5,556.6 501.9,561.3C503.4,565.9 505.0,570.5 507.2,574.7C509.5,578.9 512.3,582.8 515.3,586.4C518.4,590.1 522.1,593.4 525.6,596.8C529.1,600.2 533.0,603.3 536.5,606.8C539.9,610.3 543.3,613.9 546.5,617.6C549.7,621.3 552.7,625.2 555.7,629.0C558.8,632.8 561.7,636.8 564.9,640.5C568.0,644.2 571.2,647.9 574.6,651.5C578.0,655.0 581.5,658.4 585.1,661.7C588.8,665.0 592.6,668.2 596.4,671.3C600.2,674.4 604.1,677.4 608.0,680.4"/>
<path d="M576.0,353.5C572.3,357.4 568.4,361.0 565.0,365.1C561.7,369.1 558.6,373.4 555.9,377.9C553.2,382.3 550.8,387.0 548.6,391.8C546.5,396.6 544.7,401.5 543.2,406.5C541.7,411.5 540.4,416.7 539.5,421.8C538.6,427.0 537.9,432.3 537.5,437.5C537.2,442.8 537.1,448.1 537.3,453.3C537.5,458.6 537.9,463.9 538.6,469.1C539.4,474.2 540.6,479.3 541.6,484.5"/>
<path d="M632.0,353.5L679.2,392.8"/>
<path d="M655.8,336.5C660.7,337.1 665.6,337.7 670.5,338.4C675.4,339.0 680.3,339.6 685.2,340.3C690.2,340.9 695.1,341.6 700.0,342.2C704.9,342.9 709.8,343.6 714.7,344.2C719.6,344.9 724.5,345.6 729.4,346.3C734.3,347.0 739.2,347.7 744.1,348.4C749.0,349.2 753.9,349.9 758.8,350.7C763.7,351.4 768.6,352.2 773.5,353.0C778.4,353.7 783.3,354.5 788.2,355.4C793.1,356.2 798.0,357.0 802.8,357.9C807.7,358.7 812.6,359.6 817.5,360.5C822.3,361.4 827.2,362.3 832.1,363.2C836.9,364.2 841.8,365.1 846.6,366.1C851.5,367.1 856.3,368.1 861.2,369.1C866.0,370.2 870.9,371.2 875.7,372.3C880.5,373.4 885.3,374.5 890.2,375.6C895.0,376.8 899.8,377.9 904.6,379.1C909.4,380.3 914.2,381.6 919.0,382.8C923.7,384.1 928.5,385.4 933.3,386.7C938.1,388.0 942.8,389.4 947.6,390.8C952.3,392.2 957.1,393.6 961.8,395.0C966.5,396.5 971.3,398.0 976.0,399.5C980.7,401.1 985.4,402.6 990.1,404.2C994.8,405.9 999.4,407.5 1004.1,409.2"/>
<path d="M1016.0,406.8C1011.4,405.1 1006.7,403.3 1002.1,401.6C997.5,400.0 992.8,398.3 988.1,396.7C983.5,395.1 978.8,393.6 974.1,392.1C969.4,390.6 964.7,389.1 960.0,387.7C955.3,386.3 950.5,384.9 945.8,383.5C941.1,382.2 936.3,380.9 931.5,379.6C926.8,378.3 922.0,377.1 917.3,375.9C912.5,374.7 907.7,373.5 902.9,372.3C898.1,371.2 893.3,370.1 888.5,369.0C883.7,368.0 878.9,366.9 874.1,365.9C869.2,364.9 864.4,363.9 859.6,362.9C854.7,362.0 849.9,361.0 845.1,360.1C840.2,359.2 835.4,358.4 830.5,357.5C825.6,356.7 820.8,355.8 815.9,355.0C811.0,354.2 806.2,353.4 801.3,352.7C796.4,351.9 791.6,351.2 786.7,350.4C781.8,349.7 776.9,349.0 772.0,348.3C767.1,347.6 762.2,347.0 757.3,346.3C752.5,345.7 747.6,345.0 742.7,344.4C737.8,343.8 732.9,343.2 728.0,342.6C723.1,342.0 718.2,341.4 713.3,340.8C708.4,340.3 703.5,339.7 698.6,339.2C693.7,338.6 688.8,338.1 683.9,337.5C679.0,337.0 674.1,336.5 669.2,336.0"/>
<path d="M655.8,341.5C660.6,342.9 665.4,344.4 670.2,345.8C674.9,347.2 679.7,348.5 684.4,349.8C689.2,351.0 694.0,352.2 698.7,353.5C703.5,354.7 708.3,355.9 713.0,357.2C717.8,358.4 722.6,359.7 727.4,361.0C732.2,362.4 737.0,363.8 741.8,365.2C746.7,366.7 751.5,368.2 756.3,370.0C761.0,371.7 765.8,373.6 770.3,375.8C774.6,378.0 779.0,380.4 782.9,383.3C786.7,386.1 790.4,389.4 793.4,393.1C796.5,396.7 799.2,400.9 801.4,405.2C803.6,409.6 805.4,414.2 806.8,418.9C808.3,423.6 809.3,428.4 810.0,433.2C810.8,438.1 811.2,443.1 811.4,448.0C811.6,453.0 811.5,458.1 811.3,463.1C811.1,468.1 810.6,473.2 810.2,478.2C809.7,483.3 809.0,488.3 808.4,493.3C807.7,498.3 807.0,503.2 806.3,508.2C805.7,513.1 805.0,518.0 804.3,522.8C803.6,527.6 802.9,532.5 802.2,537.3C801.4,542.1 800.6,546.9 799.7,551.7C798.9,556.5 797.9,561.4 796.9,566.2C795.8,571.1 794.5,576.0 793.3,581.0"/>
<path d="M655.8,341.8C660.6,343.1 665.4,344.4 670.3,345.7C675.1,347.0 679.9,348.3 684.7,349.7C689.5,351.0 694.3,352.4 699.1,353.8C703.9,355.2 708.7,356.6 713.5,358.0C718.3,359.4 723.1,360.9 727.9,362.3C732.7,363.8 737.4,365.3 742.2,366.8C747.0,368.3 751.7,369.8 756.5,371.4C761.3,372.9 766.0,374.5 770.8,376.1C775.5,377.7 780.3,379.3 785.0,380.9C789.7,382.5 794.4,384.2 799.2,385.8C803.9,387.5 808.6,389.2 813.3,390.9C818.0,392.6 822.7,394.4 827.4,396.1C832.1,397.9 836.7,399.6 841.4,401.4C846.1,403.2 850.7,405.1 855.4,406.9C860.0,408.7 864.7,410.6 869.3,412.5C873.9,414.4 878.5,416.3 883.1,418.3C887.7,420.3 892.2,422.3 896.8,424.4C901.3,426.4 905.8,428.6 910.3,430.7C914.8,432.9 919.3,435.1 923.7,437.4C928.2,439.6 932.6,442.0 937.0,444.3C941.4,446.7 945.8,449.1 950.1,451.6C954.5,454.0 958.8,456.5 963.1,459.1C967.4,461.6 971.7,464.2 975.9,466.8C980.2,469.4 984.5,472.1 988.7,474.7C993.0,477.4 997.2,480.0 1001.4,482.7C1005.7,485.4 1009.9,488.1 1014.1,490.8"/>
<path d="M677.0,449.2C666.6,455.5 656.2,461.9 645.7,468.0C638.6,472.1 631.4,476.0 624.2,480.0C616.0,484.6 607.7,489.2 599.5,493.7"/>
<path d="M714.5,449.2C714.1,453.9 713.7,458.6 713.3,463.4C712.9,468.1 712.6,472.9 712.3,477.7C712.0,482.6 711.7,487.4 711.5,492.2C711.4,497.1 711.2,502.0 711.1,506.8C711.1,511.7 711.1,516.6 711.1,521.4C711.2,526.3 711.4,531.2 711.6,536.1C711.9,540.9 712.2,545.8 712.7,550.6C713.1,555.4 713.7,560.2 714.3,565.0C715.0,569.8 715.8,574.6 716.7,579.3C717.7,584.0 718.7,588.7 719.9,593.3C721.1,597.9 722.4,602.5 723.9,607.1C725.4,611.6 727.0,616.1 728.8,620.5C730.5,624.9 732.4,629.3 734.5,633.6C736.5,637.9 738.6,642.2 740.9,646.4C743.2,650.6 745.6,654.8 748.0,658.8C750.5,662.9 753.1,667.0 755.8,670.9C758.6,674.9 761.4,678.8 764.3,682.7C767.2,686.5 770.1,690.3 773.2,694.0C776.3,697.8 779.5,701.4 782.7,705.0C785.9,708.6 789.2,712.1 792.6,715.6C796.0,719.1 799.4,722.5 802.9,725.8C806.4,729.1 810.0,732.4 813.6,735.6C817.2,738.8 820.9,742.0 824.6,745.1C828.3,748.1 832.1,751.2 835.9,754.2C839.7,757.1 843.5,760.1 847.4,763.0C851.2,765.9 855.2,768.7 859.1,771.5C863.0,774.3 867.0,777.1 870.9,779.9C874.9,782.6 878.9,785.3 882.9,788.0C886.9,790.7 890.9,793.3 895.0,795.9C899.0,798.5 903.1,801.1 907.2,803.7C911.3,806.2 915.4,808.7 919.5,811.2C923.6,813.7 927.8,816.1 931.9,818.5C936.1,820.9 940.3,823.3 944.5,825.6C948.7,828.0 952.9,830.3 957.1,832.6C961.4,834.8 965.7,837.0 969.9,839.2C974.2,841.4 978.5,843.6 982.9,845.7C987.2,847.8 991.5,849.9 995.9,851.9C1000.2,854.0 1004.6,856.0 1009.0,858.0C1013.4,859.9 1017.8,861.9 1022.2,863.8C1026.7,865.7 1031.1,867.6 1035.6,869.4C1040.0,871.2 1044.5,873.0 1049.0,874.8C1053.5,876.6 1058.0,878.3 1062.5,880.0C1067.0,881.7 1071.5,883.4 1076.1,885.0C1080.6,886.6 1085.2,888.2 1089.7,889.8"/>
<path d="M727.0,449.2C730.7,459.5 734.6,469.7 738.2,480.0C745.2,500.0 751.8,520.0 758.7,540.0C763.5,553.8 768.3,567.6 773.1,581.4"/>
<path d="M1015.7,432.2C1010.9,433.1 1006.2,434.1 1001.4,435.0C996.6,436.0 991.9,436.9 987.1,437.9C982.3,438.8 977.6,439.7 972.8,440.7C968.0,441.6 963.3,442.5 958.5,443.5C953.7,444.4 949.0,445.3 944.2,446.3C939.4,447.2 934.7,448.1 929.9,449.0C925.1,450.0 920.3,450.9 915.6,451.8C910.8,452.7 906.0,453.7 901.3,454.6C896.5,455.5 891.7,456.4 886.9,457.3C882.2,458.2 877.4,459.2 872.6,460.1C867.9,461.0 863.1,461.9 858.3,462.8C853.5,463.7 848.8,464.6 844.0,465.5C839.2,466.5 834.5,467.4 829.7,468.3C824.9,469.2 820.1,470.1 815.4,471.0C810.6,471.9 805.8,472.8 801.0,473.7C796.3,474.6 791.5,475.5 786.7,476.4C782.0,477.3 777.2,478.2 772.4,479.1C767.6,480.0 762.9,481.0 758.1,481.9C753.3,482.8 748.5,483.7 743.8,484.6C739.0,485.5 734.2,486.4 729.4,487.3C724.7,488.2 719.9,489.1 715.1,490.0C710.4,490.9 705.6,491.8 700.8,492.7C696.0,493.6 691.3,494.5 686.5,495.4C681.7,496.4 676.9,497.3 672.2,498.2C667.4,499.1 662.6,500.0 657.8,500.9C653.1,501.8 648.3,502.7 643.5,503.6C638.8,504.6 634.0,505.5 629.2,506.4C624.4,507.3 619.7,508.2 614.9,509.1C610.1,510.1 605.4,511.0 600.6,511.9"/>
<path d="M1024.0,449.2C1020.1,452.8 1016.3,456.5 1012.4,460.1C1008.6,463.6 1004.6,467.2 1000.7,470.7C996.7,474.2 992.8,477.7 988.8,481.1C984.7,484.6 980.7,488.0 976.6,491.3C972.6,494.7 968.5,498.0 964.3,501.3C960.2,504.6 956.1,507.9 951.9,511.1C947.7,514.3 943.5,517.5 939.2,520.7C935.0,523.8 930.7,526.9 926.5,530.0C922.2,533.1 917.9,536.1 913.5,539.2C909.2,542.2 904.8,545.1 900.4,548.1C896.0,551.0 891.6,553.9 887.2,556.8C882.7,559.7 878.3,562.5 873.8,565.3C869.3,568.1 864.8,570.9 860.3,573.6C855.8,576.3 851.2,579.0 846.7,581.7C842.1,584.3 837.5,586.9 832.9,589.5"/>
<path d="M1035.1,449.4C1031.5,452.7 1027.9,456.0 1024.3,459.4C1020.8,462.8 1017.2,466.2 1013.7,469.7C1010.3,473.1 1006.8,476.6 1003.4,480.1C1000.0,483.6 996.6,487.2 993.2,490.8C989.9,494.4 986.6,498.0 983.3,501.6C980.0,505.3 976.7,508.9 973.5,512.6C970.2,516.3 967.0,520.0 963.7,523.7C960.5,527.4 957.2,531.1 954.0,534.7C950.7,538.4 947.4,542.0 944.1,545.6C940.8,549.2 937.4,552.8 934.0,556.3C930.6,559.8 927.1,563.2 923.6,566.6C920.1,570.0 916.5,573.3 912.9,576.6C909.2,579.8 905.5,583.0 901.7,586.1C897.9,589.2 894.1,592.2 890.2,595.3C886.4,598.3 882.5,601.2 878.5,604.2C874.6,607.1 870.6,610.0 866.7,612.9C862.7,615.8 858.7,618.7 854.7,621.6C850.7,624.4 846.7,627.2 842.6,630.0C838.5,632.8 834.4,635.5 830.3,638.2C826.2,640.8 822.1,643.5 817.9,646.0C813.7,648.6 809.5,651.1 805.2,653.5C801.0,655.9 796.7,658.3 792.3,660.5C788.0,662.8 783.6,665.0 779.3,667.2C774.9,669.3 770.4,671.4 766.0,673.4C761.5,675.4 757.0,677.3 752.5,679.2C748.0,681.1 743.4,682.9 738.8,684.7C734.3,686.5 729.7,688.2 725.1,689.8C720.4,691.5 715.8,693.1 711.1,694.7C706.5,696.3 701.8,697.8 697.1,699.3"/>
<path d="M1054.0,449.2C1054.6,455.5 1055.1,461.7 1055.7,468.0C1056.2,473.5 1056.7,479.0 1057.2,484.4"/>
<path d="M1077.7,449.2C1080.7,452.9 1083.7,456.5 1086.6,460.2C1089.6,464.1 1092.8,467.9 1095.7,471.9C1098.6,476.0 1101.6,480.1 1104.1,484.5C1106.6,489.0 1109.0,493.5 1110.8,498.3C1112.5,502.8 1114.0,507.6 1114.6,512.4C1115.2,517.0 1115.0,521.8 1114.4,526.3C1113.8,530.9 1112.4,535.5 1110.8,539.8C1109.2,544.3 1107.0,548.7 1104.8,552.9C1102.4,557.2 1099.8,561.4 1097.1,565.5C1094.4,569.7 1091.6,573.7 1088.7,577.8C1085.8,581.8 1082.9,585.7 1079.8,589.6C1076.8,593.4 1073.7,597.2 1070.5,601.0C1067.3,604.7 1064.0,608.4 1060.7,612.0C1057.4,615.6 1054.0,619.1 1050.6,622.6C1047.1,626.0 1043.6,629.5 1040.1,632.8C1036.5,636.2 1032.9,639.4 1029.2,642.7C1025.6,645.9 1021.8,649.1 1018.1,652.2C1014.3,655.3 1010.5,658.3 1006.7,661.3C1002.8,664.3 998.9,667.3 995.0,670.2C991.1,673.1 987.1,675.9 983.1,678.7C979.1,681.4 975.1,684.2 971.0,686.8C966.9,689.5 962.8,692.1 958.7,694.7C954.6,697.3 950.4,699.8 946.2,702.3C942.0,704.7 937.8,707.2 933.6,709.5C929.3,711.9 925.0,714.2 920.7,716.5C916.4,718.8 912.1,721.0 907.8,723.2C903.4,725.4 899.0,727.6 894.7,729.7C890.3,731.8 885.8,733.8 881.4,735.9C877.0,737.9 872.5,739.9 868.0,741.8C863.5,743.7 859.0,745.6 854.5,747.5C850.0,749.4 845.5,751.2 840.9,753.0C836.4,754.8 831.8,756.5 827.3,758.2C822.7,759.9 818.1,761.6 813.5,763.3C808.9,764.9 804.3,766.5 799.6,768.1C795.0,769.7 790.4,771.2 785.7,772.7C781.1,774.3 776.4,775.7 771.8,777.2C767.1,778.7 762.4,780.1 757.8,781.5C753.1,782.9 748.4,784.2 743.7,785.6C739.0,786.9 734.3,788.3 729.6,789.6C725.0,790.8 720.3,792.1 715.6,793.4"/>
<path d="M1088.2,446.5C1091.7,449.9 1095.1,453.4 1098.6,456.7C1102.3,460.1 1106.1,463.4 1109.9,466.7C1113.8,470.1 1117.9,473.2 1121.6,476.8C1125.4,480.2 1129.2,483.6 1132.4,487.5C1135.5,491.3 1138.3,495.4 1140.5,499.6C1142.8,503.9 1144.5,508.5 1146.0,513.1C1147.5,517.8 1148.6,522.6 1149.7,527.4C1150.8,532.2 1151.7,537.1 1152.6,542.0C1153.5,546.9 1154.4,551.8 1155.2,556.7C1156.0,561.6 1156.8,566.6 1157.5,571.5C1158.3,576.4 1159.0,581.4 1159.6,586.3C1160.3,591.2 1160.9,596.2 1161.5,601.1C1162.0,606.1 1162.5,611.0 1163.0,616.0C1163.5,621.0 1163.9,625.9 1164.3,630.9C1164.6,635.8 1164.9,640.8 1165.2,645.8C1165.5,650.7 1165.7,655.7 1165.9,660.7C1166.1,665.6 1166.2,670.6 1166.2,675.6C1166.3,680.5 1166.3,685.5 1166.3,690.5C1166.3,695.4 1166.2,700.4 1166.1,705.4C1166.0,710.3 1165.8,715.3 1165.6,720.2C1165.4,725.2 1165.2,730.2 1164.9,735.1C1164.5,740.1 1164.2,745.0 1163.8,750.0C1163.4,754.9 1163.0,759.9 1162.5,764.8C1162.0,769.8 1161.5,774.7 1160.9,779.6C1160.3,784.6 1159.7,789.5 1159.0,794.4C1158.3,799.4 1157.6,804.3 1156.9,809.2C1156.1,814.1 1155.3,819.0 1154.5,823.9C1153.6,828.8 1152.8,833.7 1151.8,838.6C1150.9,843.5 1149.9,848.4 1148.9,853.3C1147.9,858.1 1146.8,863.0 1145.8,867.9"/>
<path d="M1025.5,533.7C985.0,548.0 944.5,562.4 904.0,576.7C880.7,585.0 857.4,593.2 834.1,601.5"/>
<path d="M1026.5,545.5C1022.4,548.4 1018.3,551.3 1014.2,554.1C1010.1,557.0 1006.0,559.9 1001.9,562.8C997.8,565.6 993.7,568.5 989.6,571.4C985.5,574.2 981.4,577.1 977.3,580.0C973.2,582.8 969.1,585.7 964.9,588.5C960.8,591.4 956.7,594.3 952.6,597.1C948.5,600.0 944.4,602.8 940.3,605.7C936.2,608.5 932.0,611.4 927.9,614.2C923.8,617.1 919.7,619.9 915.6,622.8C911.5,625.6 907.3,628.5 903.2,631.3C899.1,634.2 895.0,637.0 890.9,639.9C886.8,642.7 882.6,645.6 878.5,648.4C874.4,651.3 870.3,654.1 866.2,657.0C862.1,659.8 857.9,662.6 853.8,665.5C849.7,668.3 845.6,671.2 841.5,674.1C837.4,676.9 833.3,679.8 829.1,682.6C825.0,685.5 820.9,688.3 816.8,691.2C812.7,694.0 808.6,696.9 804.5,699.8C800.4,702.6 796.3,705.5 792.2,708.4C788.1,711.2 784.0,714.1 779.9,717.0C775.8,719.8 771.7,722.7 767.6,725.6C763.5,728.5 759.4,731.4 755.3,734.2C751.2,737.1 747.1,740.0 743.0,742.9C738.9,745.8 734.8,748.7 730.7,751.6C726.7,754.5 722.6,757.4 718.5,760.3C714.4,763.2 710.3,766.1 706.3,769.0C702.2,771.9 698.1,774.9 694.1,777.8"/>
<path d="M1066.0,545.5C1070.3,569.7 1074.3,593.9 1079.0,618.0C1084.4,645.7 1090.9,673.3 1096.5,701.0C1107.7,756.6 1118.4,812.3 1129.4,867.9"/>
<path d="M544.0,545.7C542.7,550.3 541.4,554.9 540.2,559.5C539.0,564.1 537.8,568.7 536.7,573.3C535.6,578.0 534.5,582.6 533.5,587.3C532.5,591.9 531.6,596.6 530.7,601.2C529.8,605.9 529.0,610.6 528.2,615.3C527.5,620.0 526.8,624.6 526.2,629.3C525.5,634.0 525.0,638.8 524.5,643.5C524.1,648.2 523.7,652.9 523.4,657.6C523.1,662.3 522.8,667.1 522.7,671.8C522.6,676.5 522.5,681.3 522.6,686.0C522.6,690.7 522.8,695.5 523.0,700.2C523.3,704.9 523.6,709.7 524.0,714.4C524.5,719.1 525.0,723.9 525.7,728.6C526.4,733.4 527.1,738.1 528.0,742.8C528.9,747.5 529.9,752.3 531.0,757.0C532.1,761.7 533.4,766.3 534.8,770.9C536.2,775.5 537.8,780.1 539.5,784.5C541.3,789.0 543.2,793.3 545.3,797.6C547.4,801.7 549.7,805.9 552.3,809.8C554.8,813.7 557.6,817.5 560.6,821.0C563.6,824.6 566.8,828.0 570.3,831.1C573.8,834.2 577.6,837.1 581.6,839.6C585.5,842.1 589.8,844.1 594.2,846.0C598.5,847.9 603.1,849.3 607.6,850.7C612.1,852.2 616.7,853.4 621.3,854.6C625.9,855.8 630.5,856.9 635.2,858.0C639.8,859.0 644.5,860.0 649.2,860.9C653.8,861.8 658.5,862.7 663.2,863.6C667.9,864.4 672.6,865.3 677.3,866.1C682.0,866.9 686.7,867.7 691.4,868.5C696.1,869.3 700.7,870.1 705.4,870.8C710.1,871.5 714.8,872.3 719.6,873.0C724.3,873.7 729.0,874.4 733.7,875.0C738.4,875.7 743.1,876.3 747.8,877.0C752.5,877.6 757.2,878.2 761.9,878.8C766.7,879.4 771.4,880.0 776.1,880.6C780.8,881.1 785.5,881.7 790.2,882.2C795.0,882.7 799.7,883.3 804.4,883.8C809.1,884.3 813.9,884.8 818.6,885.2C823.3,885.7 828.0,886.2 832.8,886.6C837.5,887.1 842.2,887.5 847.0,888.0C851.7,888.4 856.4,888.8 861.2,889.2C865.9,889.6 870.6,890.0 875.4,890.4C880.1,890.8 884.8,891.1 889.6,891.5C894.3,891.9 899.1,892.2 903.8,892.6C908.5,892.9 913.3,893.2 918.0,893.6C922.8,893.9 927.5,894.2 932.3,894.5C937.0,894.8 941.7,895.2 946.5,895.5C951.2,895.7 956.0,896.0 960.7,896.3C965.5,896.6 970.2,896.9 975.0,897.2C979.7,897.4 984.4,897.7 989.2,898.0C993.9,898.3 998.7,898.5 1003.4,898.8C1008.2,899.0 1012.9,899.3 1017.7,899.5C1022.4,899.8 1027.2,900.1 1031.9,900.3C1036.7,900.6 1041.4,900.8 1046.2,901.0C1050.9,901.3 1055.7,901.5 1060.4,901.8C1065.1,902.0 1069.9,902.3 1074.6,902.5C1079.4,902.8 1084.1,903.0 1088.9,903.3"/>
<path d="M546.9,545.7C547.3,550.7 547.8,555.6 548.2,560.6C548.7,565.6 549.1,570.6 549.6,575.5C550.1,580.5 550.6,585.6 551.2,590.6C551.7,595.6 552.3,600.6 553.0,605.6C553.6,610.6 554.3,615.6 555.0,620.6C555.8,625.6 556.6,630.6 557.4,635.6C558.3,640.6 559.2,645.6 560.2,650.5C561.2,655.4 562.3,660.4 563.4,665.3C564.6,670.2 565.8,675.0 567.1,679.9C568.4,684.7 569.9,689.5 571.4,694.3C572.9,699.1 574.5,703.8 576.2,708.5C578.0,713.2 579.8,717.8 581.8,722.4C583.7,727.0 585.8,731.6 588.0,736.1C590.2,740.5 592.5,745.0 595.0,749.3C597.5,753.7 600.1,758.0 602.9,762.3C605.6,766.5 608.7,770.6 611.6,774.8"/>
<path d="M587.8,537.7L736.7,599.1"/>
<path d="M749.0,598.4L599.9,538.7"/>
<path d="M640.6,785.4C638.0,781.1 635.5,776.8 632.9,772.4C630.4,768.0 627.9,763.7 625.5,759.2C623.1,754.8 620.7,750.4 618.4,745.9C616.1,741.5 613.8,737.0 611.6,732.5C609.5,727.9 607.3,723.4 605.3,718.8C603.3,714.2 601.3,709.6 599.4,705.0C597.6,700.3 595.8,695.6 594.1,690.9C592.4,686.2 590.8,681.5 589.4,676.7C587.9,671.9 586.6,667.1 585.3,662.3C584.1,657.4 582.9,652.6 581.8,647.7C580.7,642.8 579.8,637.8 578.8,632.9C577.8,628.0 577.0,623.0 576.1,618.1C575.2,613.1 574.4,608.2 573.5,603.2C572.7,598.3 571.9,593.3 571.0,588.3C570.1,583.4 569.3,578.4 568.4,573.5C567.4,568.6 566.4,563.7 565.5,558.8"/>
<path d="M636.7,689.2C621.5,659.5 606.4,629.7 591.2,600.0C584.0,585.9 576.8,571.7 569.6,557.6"/>
<path d="M749.3,638.3L686.0,681.7"/>
<path d="M685.4,692.4L747.1,649.5"/>
<path d="M759.4,641.9L667.8,774.4"/>
<path d="M672.0,785.5L766.2,652.8"/>
<path d="M814.5,641.5C838.7,661.3 862.6,681.4 887.0,701.0C892.5,705.4 898.5,709.1 904.0,713.5C968.7,766.2 1032.9,819.5 1097.4,872.5"/>
<path d="M641.9,737.6C641.4,745.4 640.6,753.2 640.3,761.0C640.2,764.7 640.5,768.4 640.6,772.1"/>
<path d="M657.8,785.4C657.9,777.3 657.9,769.1 658.0,761.0C658.1,757.6 658.3,754.3 658.4,750.9"/>
<path d="M619.6,737.6C616.3,740.7 612.9,743.8 609.7,747.0C606.2,750.5 602.6,754.0 599.3,757.7C596.0,761.5 592.6,765.3 589.6,769.4C586.7,773.5 583.9,777.7 581.7,782.2C579.6,786.6 577.7,791.3 576.6,796.0C575.6,800.7 575.0,805.7 575.4,810.5C575.7,815.0 576.8,819.9 578.8,824.0C580.8,827.9 584.0,831.5 587.3,834.4C590.9,837.5 595.3,839.7 599.6,841.9C603.9,844.2 608.6,846.1 613.1,848.0C617.7,849.8 622.2,851.6 626.9,853.2C631.5,854.9 636.1,856.4 640.8,857.9C645.4,859.3 650.1,860.6 654.8,861.9C659.5,863.1 664.2,864.2 668.9,865.3C673.6,866.4 678.4,867.4 683.1,868.3C687.9,869.2 692.7,870.0 697.4,870.8C702.2,871.6 707.0,872.4 711.8,873.1C716.6,873.7 721.4,874.4 726.2,875.0C731.0,875.6 735.9,876.2 740.7,876.7C745.5,877.3 750.3,877.8 755.2,878.3C760.0,878.8 764.8,879.3 769.6,879.8C774.5,880.2 779.3,880.7 784.1,881.1C788.9,881.6 793.8,882.0 798.6,882.4C803.4,882.9 808.3,883.3 813.1,883.7C817.9,884.1 822.8,884.5 827.6,884.8C832.4,885.2 837.3,885.6 842.1,885.9C846.9,886.3 851.8,886.6 856.6,887.0C861.5,887.3 866.3,887.7 871.1,888.0C876.0,888.3 880.8,888.6 885.6,888.9C890.5,889.3 895.3,889.6 900.2,889.9C905.0,890.2 909.8,890.5 914.7,890.8C919.5,891.1 924.4,891.4 929.2,891.7C934.0,892.0 938.9,892.3 943.7,892.6C948.6,892.9 953.4,893.2 958.3,893.4C963.1,893.7 967.9,894.0 972.8,894.3C977.6,894.6 982.5,894.9 987.3,895.2C992.1,895.5 997.0,895.8 1001.8,896.1C1006.7,896.4 1011.5,896.8 1016.3,897.1C1021.2,897.4 1026.0,897.7 1030.9,898.0C1035.7,898.4 1040.5,898.7 1045.4,899.0C1050.2,899.4 1055.1,899.7 1059.9,900.1C1064.7,900.5 1069.6,900.8 1074.4,901.2C1079.2,901.6 1084.1,902.0 1088.9,902.4"/>
<path d="M702.5,828.5C707.2,829.9 711.8,831.3 716.5,832.6C721.2,834.0 725.9,835.3 730.6,836.6C735.3,837.8 740.0,839.1 744.7,840.3C749.4,841.5 754.1,842.7 758.8,843.9C763.5,845.0 768.2,846.1 773.0,847.2C777.7,848.4 782.4,849.4 787.2,850.5C791.9,851.5 796.7,852.6 801.4,853.6C806.2,854.6 810.9,855.5 815.7,856.5C820.4,857.5 825.2,858.4 830.0,859.3C834.7,860.2 839.5,861.1 844.3,862.0C849.1,862.9 853.8,863.8 858.6,864.6C863.4,865.5 868.2,866.3 873.0,867.1C877.8,868.0 882.6,868.8 887.4,869.6C892.2,870.4 896.9,871.1 901.7,871.9C906.5,872.7 911.3,873.4 916.2,874.2C921.0,875.0 925.8,875.7 930.6,876.4C935.4,877.2 940.2,877.9 945.0,878.6C949.8,879.4 954.6,880.1 959.4,880.8C964.2,881.5 969.0,882.3 973.8,883.0C978.6,883.7 983.5,884.4 988.3,885.1C993.1,885.8 997.9,886.6 1002.7,887.3C1007.5,888.0 1012.3,888.7 1017.1,889.5C1021.9,890.2 1026.7,890.9 1031.5,891.7C1036.3,892.4 1041.1,893.1 1045.9,893.9C1050.7,894.6 1055.5,895.4 1060.3,896.2C1065.1,896.9 1069.9,897.7 1074.7,898.5C1079.5,899.3 1084.3,900.1 1089.1,900.9"/>
</g>
<g fill="#000" stroke="#000" stroke-width="1.33">
<path d="M596.7,803.2L582.9,806.3L584.0,797.0Z"/>
<path d="M614.3,705.7L600.2,705.7L603.3,696.9Z"/>
<path d="M516.2,500.0L502.8,495.6L508.5,488.2Z"/>
<path d="M612.0,305.2L613.5,291.2L621.9,295.1Z"/>
<path d="M798.2,593.7L797.7,579.6L806.6,582.3Z"/>
<path d="M1051.5,401.0L1045.6,388.2L1054.9,387.3Z"/>
<path d="M531.5,113.3L538.6,101.1L544.7,108.2Z"/>
<path d="M1102.2,904.0L1088.8,908.4L1089.0,899.1Z"/>
<path d="M1102.2,903.6L1088.6,907.4L1089.2,898.1Z"/>
<path d="M614.3,700.3L600.3,698.3L604.6,690.0Z"/>
<path d="M528.2,497.5L516.4,489.7L523.8,484.1Z"/>
<path d="M748.2,593.7L735.0,588.7L741.0,581.5Z"/>
<path d="M650.5,406.0L636.4,407.3L638.7,398.3Z"/>
<path d="M590.7,305.2L580.9,295.0L589.4,291.1Z"/>
<path d="M1016.8,406.2L1002.8,404.1L1007.2,395.8Z"/>
<path d="M939.5,225.8L925.5,227.3L927.6,218.2Z"/>
<path d="M1642.8,211.0L1628.8,213.2L1630.5,204.0Z"/>
<path d="M1474.3,114.5L1464.6,104.2L1473.2,100.4Z"/>
<path d="M1569.7,114.5L1558.8,105.6L1566.7,100.7Z"/>
<path d="M1578.5,114.5L1567.7,105.4L1575.8,100.6Z"/>
<path d="M960.5,29.6L973.9,25.2L973.7,34.5Z"/>
<path d="M1697.9,209.3L1701.0,195.5L1708.9,200.5Z"/>
<path d="M1173.5,903.0L1186.6,897.7L1187.0,907.1Z"/>
<path d="M1009.8,227.7L1022.2,221.0L1023.7,230.2Z"/>
<path d="M1069.5,401.3L1074.9,388.3L1081.9,394.5Z"/>
<path d="M1074.7,497.5L1077.2,483.6L1085.4,488.2Z"/>
<path d="M821.0,612.5L834.0,607.0L834.6,616.4Z"/>
<path d="M821.0,604.2L834.0,598.7L834.6,608.1Z"/>
<path d="M685.5,710.0L698.3,704.1L699.2,713.4Z"/>
<path d="M702.8,808.5L716.0,803.4L716.3,812.7Z"/>
<path d="M1173.5,902.5L1186.0,895.9L1187.4,905.2Z"/>
<path d="M1652.8,209.3L1639.9,203.5L1646.4,196.7Z"/>
<path d="M1677.8,209.3L1672.8,196.1L1682.1,195.9Z"/>
<path d="M685.5,701.0L697.6,693.8L699.5,703.0Z"/>
<path d="M1173.5,902.6L1186.3,896.6L1187.2,905.9Z"/>
<path d="M1010.3,233.6L1023.6,228.9L1023.6,238.3Z"/>
<path d="M1173.5,902.8L1186.6,897.4L1187.1,906.7Z"/>
<path d="M1173.5,896.7L1185.0,888.4L1187.6,897.4Z"/>
<path d="M1010.3,234.0L1024.0,230.7L1023.1,240.0Z"/>
<path d="M654.1,304.8L665.1,295.9L668.2,304.7Z"/>
<path d="M565.7,497.5L568.1,483.6L576.2,488.1Z"/>
<path d="M734.5,401.3L737.8,387.6L745.7,392.6Z"/>
<path d="M655.8,314.8L667.6,307.0L669.9,316.0Z"/>
<path d="M754.5,401.3L762.6,389.7L768.1,397.3Z"/>
<path d="M812.4,593.6L818.8,581.0L825.3,587.8Z"/>
<path d="M1041.5,401.3L1032.0,390.8L1040.6,387.2Z"/>
<path d="M702.8,802.5L715.2,795.7L716.7,804.9Z"/>
<path d="M596.7,802.8L582.8,805.3L584.3,796.0Z"/>
<path d="M596.7,795.2L582.6,796.2L585.1,787.2Z"/>
<path d="M618.0,689.2L604.9,683.9L611.0,676.9Z"/>
<path d="M544.5,497.5L537.1,485.5L546.2,483.5Z"/>
<path d="M689.5,401.3L676.3,396.4L682.2,389.2Z"/>
<path d="M1016.8,413.3L1002.7,413.6L1005.6,404.7Z"/>
<path d="M656.0,334.3L669.8,331.3L668.6,340.6Z"/>
<path d="M790.6,594.0L788.8,580.0L797.9,581.9Z"/>
<path d="M1025.5,497.7L1011.7,494.8L1016.5,486.8Z"/>
<path d="M587.8,500.2L597.2,489.6L601.7,497.8Z"/>
<path d="M1102.2,894.5L1088.1,894.2L1091.4,885.4Z"/>
<path d="M777.5,594.0L768.7,582.9L777.5,579.9Z"/>
<path d="M587.5,514.4L599.7,507.3L601.5,516.5Z"/>
<path d="M821.5,596.4L830.5,585.5L835.3,593.5Z"/>
<path d="M684.6,703.9L695.5,694.9L698.7,703.7Z"/>
<path d="M1058.5,497.7L1052.6,484.9L1061.9,484.0Z"/>
<path d="M702.8,797.2L714.2,788.9L716.9,797.8Z"/>
<path d="M1143.5,881.0L1141.1,867.1L1150.4,868.7Z"/>
<path d="M821.5,605.9L832.5,597.0L835.6,605.9Z"/>
<path d="M683.2,785.5L691.4,774.0L696.8,781.6Z"/>
<path d="M1132.0,881.0L1124.8,868.8L1134.0,867.0Z"/>
<path d="M1102.2,903.8L1088.7,907.9L1089.1,898.6Z"/>
<path d="M619.6,785.4L607.8,777.6L615.3,771.9Z"/>
<path d="M749.0,604.2L734.9,603.4L738.5,594.8Z"/>
<path d="M587.5,533.7L601.6,534.3L598.1,543.0Z"/>
<path d="M562.8,545.7L570.0,557.8L560.9,559.7Z"/>
<path d="M563.5,545.7L573.7,555.5L565.4,559.7Z"/>
<path d="M675.0,689.2L683.4,677.8L688.6,685.5Z"/>
<path d="M758.0,641.9L749.7,653.3L744.4,645.7Z"/>
<path d="M660.2,785.4L663.9,771.8L671.6,777.1Z"/>
<path d="M773.9,641.9L770.0,655.5L762.4,650.1Z"/>
<path d="M1107.7,881.0L1094.4,876.1L1100.4,868.9Z"/>
<path d="M640.9,785.4L635.9,772.2L645.2,772.0Z"/>
<path d="M659.0,737.6L663.1,751.1L653.8,750.7Z"/>
<path d="M1102.2,903.4L1088.6,907.0L1089.3,897.7Z"/>
<path d="M1102.2,903.2L1088.3,905.5L1089.9,896.3Z"/>
</g>
<g>
<text transform="translate(977.5,42.7) scale(0.965,1)" text-anchor="middle">1</text>
<text transform="translate(552.0,110.2) scale(0.965,1)" text-anchor="middle">15</text>
<text transform="translate(1474.0,97.7) scale(0.965,1)" text-anchor="middle">4</text>
<text transform="translate(1569.7,96.7) scale(0.965,1)" text-anchor="middle">1</text>
<text transform="translate(1578.8,96.7) scale(0.965,1)" text-anchor="middle">1</text>
<text transform="translate(1627.7,202.7) scale(0.965,1)" text-anchor="middle">12</text>
<text transform="translate(1645.8,194.3) scale(0.965,1)" text-anchor="middle">32</text>
<text transform="translate(1686.0,195.0) scale(0.965,1)" text-anchor="middle">38</text>
<text transform="translate(1714.6,203.3) scale(0.965,1)" text-anchor="middle">3</text>
<text transform="translate(921.6,217.4) scale(0.965,1)" text-anchor="middle">6</text>
<text transform="translate(1033.8,235.6) scale(0.965,1)" text-anchor="middle">2</text>
<text transform="translate(1026.5,234.2) scale(0.965,1)" text-anchor="middle">2</text>
<text transform="translate(1029.2,246.2) scale(0.965,1)" text-anchor="middle">2</text>
<text transform="translate(590.7,289.4) scale(0.965,1)" text-anchor="middle">6</text>
<text transform="translate(626.5,295.7) scale(0.965,1)" text-anchor="middle">3</text>
<text transform="translate(672.0,309.4) scale(0.965,1)" text-anchor="middle">1</text>
<text transform="translate(676.2,322.4) scale(0.965,1)" text-anchor="middle">23</text>
<text transform="translate(673.2,348.2) scale(0.965,1)" text-anchor="middle">9</text>
<text transform="translate(635.7,396.2) scale(0.965,1)" text-anchor="middle">13</text>
<text transform="translate(681.5,386.2) scale(0.965,1)" text-anchor="middle">1</text>
<text transform="translate(749.5,394.4) scale(0.965,1)" text-anchor="middle">4</text>
<text transform="translate(773.2,401.2) scale(0.965,1)" text-anchor="middle">3</text>
<text transform="translate(1003.2,392.4) scale(0.965,1)" text-anchor="middle">4</text>
<text transform="translate(1002.2,401.7) scale(0.965,1)" text-anchor="middle">20</text>
<text transform="translate(1042.7,384.9) scale(0.965,1)" text-anchor="middle">31</text>
<text transform="translate(1058.5,386.2) scale(0.965,1)" text-anchor="middle">3</text>
<text transform="translate(1087.2,396.2) scale(0.965,1)" text-anchor="middle">2</text>
<text transform="translate(505.7,487.7) scale(0.965,1)" text-anchor="middle">1</text>
<text transform="translate(524.5,481.4) scale(0.965,1)" text-anchor="middle">23</text>
<text transform="translate(549.0,481.4) scale(0.965,1)" text-anchor="middle">74</text>
<text transform="translate(582.5,490.2) scale(0.965,1)" text-anchor="middle">66</text>
<text transform="translate(607.5,502.7) scale(0.965,1)" text-anchor="middle">1</text>
<text transform="translate(607.5,523.4) scale(0.965,1)" text-anchor="middle">2</text>
<text transform="translate(602.0,551.4) scale(0.965,1)" text-anchor="middle">17</text>
<text transform="translate(557.0,568.4) scale(0.965,1)" text-anchor="middle">15</text>
<text transform="translate(565.7,569.2) scale(0.965,1)" text-anchor="middle">1</text>
<text transform="translate(1013.5,484.7) scale(0.965,1)" text-anchor="middle">6</text>
<text transform="translate(1066.0,481.4) scale(0.965,1)" text-anchor="middle">2</text>
<text transform="translate(1091.5,489.7) scale(0.965,1)" text-anchor="middle">2</text>
<text transform="translate(738.3,581.2) scale(0.965,1)" text-anchor="middle">42</text>
<text transform="translate(733.9,594.4) scale(0.965,1)" text-anchor="middle">12</text>
<text transform="translate(778.6,577.3) scale(0.965,1)" text-anchor="middle">6</text>
<text transform="translate(798.0,580.1) scale(0.965,1)" text-anchor="middle">38</text>
<text transform="translate(809.6,579.0) scale(0.965,1)" text-anchor="middle">6</text>
<text transform="translate(815.1,583.9) scale(0.965,1)" text-anchor="middle">10</text>
<text transform="translate(830.6,589.5) scale(0.965,1)" text-anchor="middle">24</text>
<text transform="translate(841.7,598.9) scale(0.965,1)" text-anchor="middle">16</text>
<text transform="translate(841.7,609.9) scale(0.965,1)" text-anchor="middle">13</text>
<text transform="translate(840.6,620.4) scale(0.965,1)" text-anchor="middle">6</text>
<text transform="translate(841.7,626.0) scale(0.965,1)" text-anchor="middle">13</text>
<text transform="translate(738.5,648.7) scale(0.965,1)" text-anchor="middle">27</text>
<text transform="translate(758.0,655.9) scale(0.965,1)" text-anchor="middle">36</text>
<text transform="translate(608.6,674.7) scale(0.965,1)" text-anchor="middle">8</text>
<text transform="translate(599.9,688.4) scale(0.965,1)" text-anchor="middle">5</text>
<text transform="translate(597.7,696.4) scale(0.965,1)" text-anchor="middle">8</text>
<text transform="translate(695.2,689.2) scale(0.965,1)" text-anchor="middle">2</text>
<text transform="translate(705.3,708.6) scale(0.965,1)" text-anchor="middle">5</text>
<text transform="translate(704.6,721.6) scale(0.965,1)" text-anchor="middle">11</text>
<text transform="translate(614.5,769.4) scale(0.965,1)" text-anchor="middle">3</text>
<text transform="translate(650.7,759.4) scale(0.965,1)" text-anchor="middle">10</text>
<text transform="translate(648.7,769.4) scale(0.965,1)" text-anchor="middle">5</text>
<text transform="translate(676.2,778.2) scale(0.965,1)" text-anchor="middle">2</text>
<text transform="translate(704.0,785.7) scale(0.965,1)" text-anchor="middle">1</text>
<text transform="translate(579.0,785.2) scale(0.965,1)" text-anchor="middle">61</text>
<text transform="translate(577.0,793.2) scale(0.965,1)" text-anchor="middle">9</text>
<text transform="translate(578.0,798.7) scale(0.965,1)" text-anchor="middle">7</text>
<text transform="translate(722.7,805.2) scale(0.965,1)" text-anchor="middle">14</text>
<text transform="translate(720.7,812.7) scale(0.965,1)" text-anchor="middle">1</text>
<text transform="translate(720.7,820.7) scale(0.965,1)" text-anchor="middle">1</text>
<text transform="translate(1099.0,866.2) scale(0.965,1)" text-anchor="middle">143</text>
<text transform="translate(1136.5,864.9) scale(0.965,1)" text-anchor="middle">69</text>
<text transform="translate(1158.5,868.2) scale(0.965,1)" text-anchor="middle">179</text>
<text transform="translate(1085.7,883.9) scale(0.965,1)" text-anchor="middle">98</text>
<text transform="translate(1083.5,893.2) scale(0.965,1)" text-anchor="middle">69</text>
<text transform="translate(1079.0,898.7) scale(0.965,1)" text-anchor="middle">122</text>
<text transform="translate(1084.0,900.2) scale(0.965,1)" text-anchor="middle">28</text>
<text transform="translate(1195.2,903.2) scale(0.965,1)" text-anchor="middle">146</text>
<text transform="translate(1192.0,908.7) scale(0.965,1)" text-anchor="middle">94</text>
<text transform="translate(1192.5,911.7) scale(0.965,1)" text-anchor="middle">35</text>
<text transform="translate(1191.5,914.2) scale(0.965,1)" text-anchor="middle">76</text>
</g>
</svg></body></html>
